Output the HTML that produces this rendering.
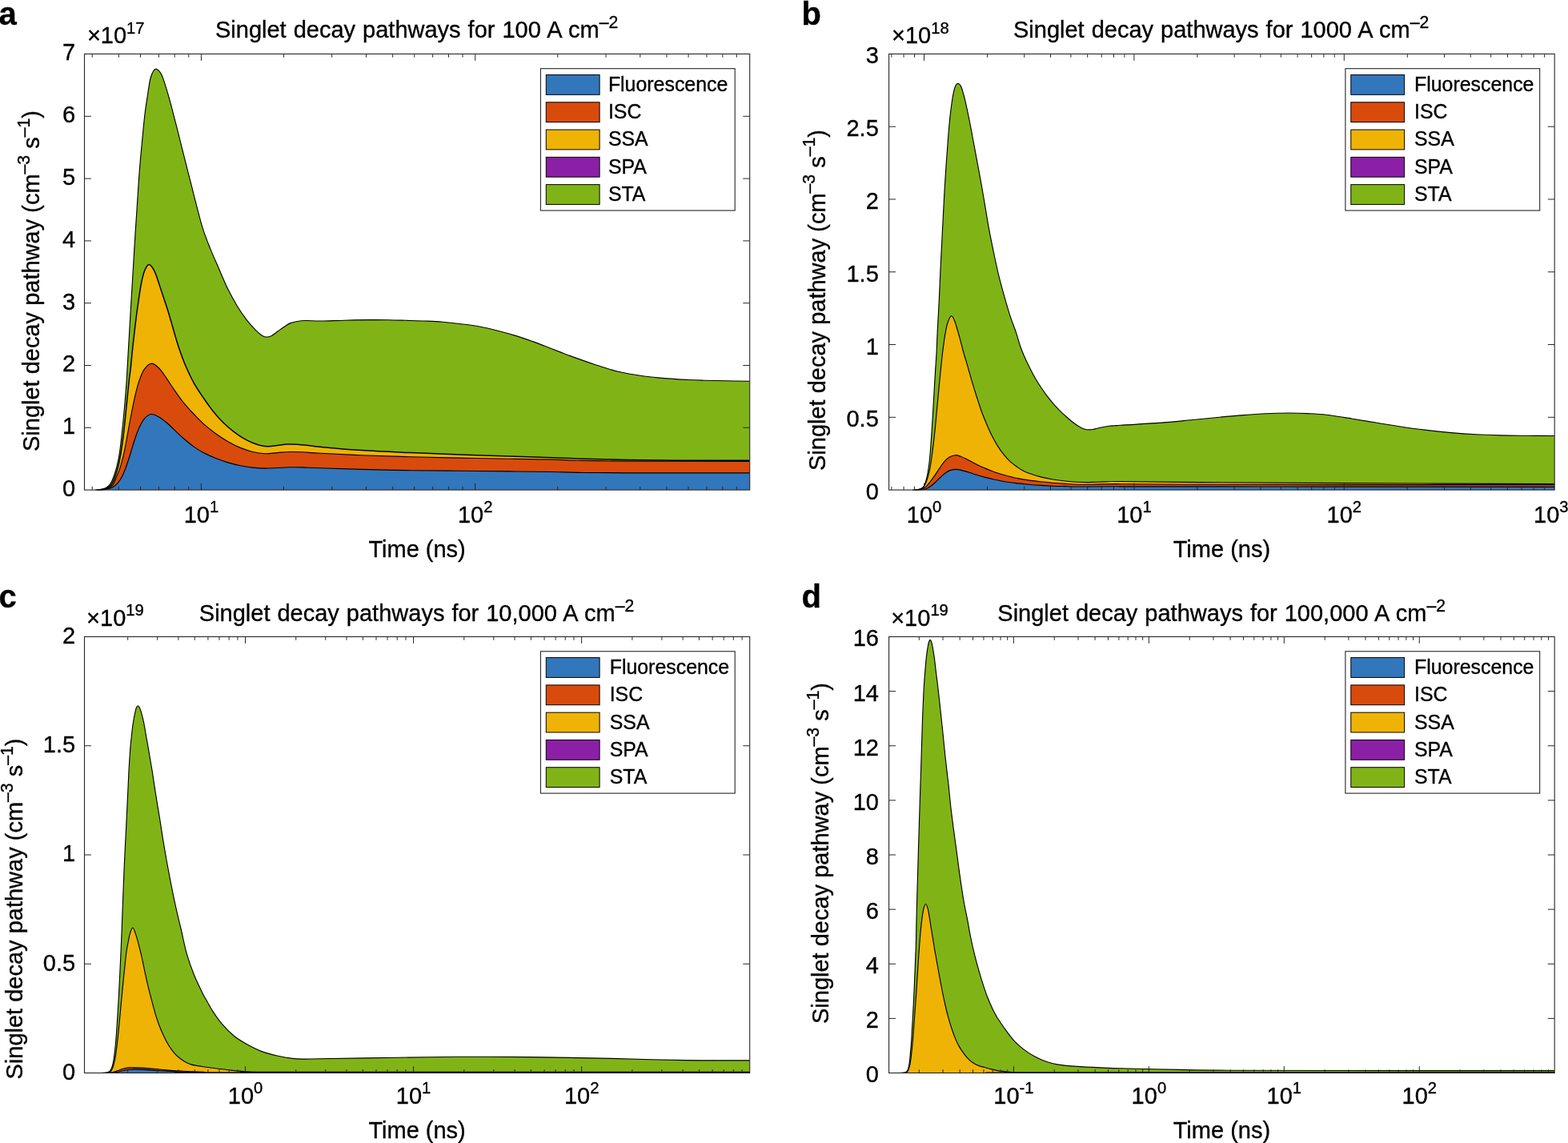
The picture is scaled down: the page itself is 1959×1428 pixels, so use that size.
<!DOCTYPE html>
<html lang="en"><head><meta charset="utf-8"><title>Singlet decay pathways</title>
<style>html,body{margin:0;padding:0;background:#fff}body{width:1959px;height:1428px;overflow:hidden}svg{display:block}text{font-family:"Liberation Sans",Arial,Helvetica,sans-serif;fill:#000;stroke:#000;stroke-width:0.35px;stroke-linejoin:round}</style></head><body>
<svg xmlns="http://www.w3.org/2000/svg" width="1959" height="1428" viewBox="0 0 1959 1428">
<rect width="1959" height="1428" fill="#fff"/>
<g>
<clipPath id="clipa"><rect x="105.5" y="67.4" width="831.2" height="545.3"/></clipPath>
<g clip-path="url(#clipa)">
<path d="M119 612.1C120.2 611.98 123.97 611.83 126.2 611.4C128.43 610.97 130.6 610.47 132.4 609.5C134.2 608.53 135.72 607.15 137 605.6C138.28 604.05 139.08 602.38 140.1 600.2C141.12 598.02 142.08 595.57 143.1 592.5C144.12 589.43 145.17 586.17 146.2 581.8C147.23 577.43 148.4 571.97 149.3 566.3C150.2 560.63 150.83 554.47 151.6 547.8C152.37 541.13 153.13 534 153.9 526.3C154.67 518.6 155.48 510.15 156.2 501.6C156.92 493.05 157.48 486.1 158.2 475C158.92 463.9 159.62 450.28 160.5 435C161.38 419.72 162.53 399.63 163.5 383.3C164.47 366.97 165.45 351.13 166.3 337C167.15 322.87 167.82 311 168.6 298.5C169.38 286 170.33 272.22 171 262C171.67 251.78 171.98 246.22 172.6 237.2C173.22 228.18 173.83 218.43 174.7 207.9C175.57 197.37 176.77 184.78 177.8 174C178.83 163.22 179.87 151.93 180.9 143.2C181.93 134.47 182.85 129.05 184 121.6C185.15 114.15 186.55 103.93 187.8 98.5C189.05 93.07 190.22 91.05 191.5 89C192.78 86.95 193.8 85.52 195.5 86.2C197.2 86.88 199.63 89 201.7 93.1C203.77 97.2 205.85 104.25 207.9 110.8C209.95 117.35 211.47 122.88 214 132.4C216.53 141.92 220.1 156.08 223.1 167.9C226.1 179.72 229.08 191.75 232 203.3C234.92 214.85 238.63 229.42 240.6 237.2C242.57 244.98 241.72 242.08 243.8 250C245.88 257.92 249.88 274.43 253.1 284.7C256.32 294.97 259.77 303.27 263.1 311.6C266.43 319.93 269.58 326.63 273.1 334.7C276.62 342.77 280.23 351.9 284.2 360C288.17 368.1 292.85 376.62 296.9 383.3C300.95 389.98 304.63 395.13 308.5 400.1C312.37 405.07 316.88 409.88 320.1 413.1C323.32 416.32 325.62 418.08 327.8 419.4C329.98 420.72 331.28 421 333.2 421C335.12 421 337 420.57 339.3 419.4C341.6 418.23 344.43 415.8 347 414C349.57 412.2 352.13 410.28 354.7 408.6C357.27 406.92 359.82 405.05 362.4 403.9C364.98 402.75 366.98 402.27 370.2 401.7C373.42 401.13 376.73 400.62 381.7 400.5C386.67 400.38 391.95 401.05 400 401C408.05 400.95 419.78 400.43 430 400.2C440.22 399.97 452.13 399.68 461.3 399.6C470.47 399.52 477.35 399.58 485 399.7C492.65 399.82 499.7 400.08 507.2 400.3C514.7 400.52 522.35 400.68 530 401C537.65 401.32 545.43 401.58 553.1 402.2C560.77 402.82 568.33 403.73 576 404.7C583.67 405.67 591.43 406.58 599.1 408C606.77 409.42 614.35 411.27 622 413.2C629.65 415.13 637.83 417.4 645 419.6C652.17 421.8 659.07 424.28 665 426.4C670.93 428.52 674.77 430.05 680.6 432.3C686.43 434.55 694.88 437.9 700 439.9C705.12 441.9 704.32 441.78 711.3 444.3C718.28 446.82 731.7 451.67 741.9 455C752.1 458.33 762.3 461.85 772.5 464.3C782.7 466.75 792.88 468.27 803.1 469.7C813.32 471.13 824.32 472.1 833.8 472.9C843.28 473.7 852.35 474.12 860 474.5C867.65 474.88 871.95 474.98 879.7 475.2C887.45 475.42 897 475.63 906.5 475.8C916 475.97 931.67 476.13 936.7 476.2L936.7 612.1L119 612.1Z" fill="#80b416" stroke="none"/>
<path d="M121 612.1C122.17 611.98 125.83 611.83 128 611.4C130.17 610.97 132.17 610.47 134 609.5C135.83 608.53 137.58 607.35 139 605.6C140.42 603.85 141.3 601.95 142.5 599C143.7 596.05 145.07 591.8 146.2 587.9C147.33 584 148.27 580.73 149.3 575.6C150.33 570.47 151.37 564.3 152.4 557.1C153.43 549.9 154.47 541.65 155.5 532.4C156.53 523.15 157.63 511.17 158.6 501.6C159.57 492.03 160.53 481.88 161.3 475C162.07 468.12 162.37 467.88 163.2 460.3C164.03 452.72 165.28 439 166.3 429.5C167.32 420 168.28 411.52 169.3 403.3C170.32 395.08 171.25 388.17 172.4 380.2C173.55 372.23 174.98 362.07 176.2 355.5C177.42 348.93 178.53 344.52 179.7 340.8C180.87 337.08 182.13 334.9 183.2 333.2C184.27 331.5 185.02 330.6 186.1 330.6C187.18 330.6 188.4 331.5 189.7 333.2C191 334.9 192.35 337.08 193.9 340.8C195.45 344.52 197.27 350.37 199 355.5C200.73 360.63 202.57 366.35 204.3 371.6C206.03 376.85 207.78 381.87 209.4 387C211.02 392.13 212.4 396.9 214 402.4C215.6 407.9 217.25 414.15 219 420C220.75 425.85 222.33 431.28 224.5 437.5C226.67 443.72 229.03 450.45 232 457.3C234.97 464.15 238.62 471.98 242.3 478.6C245.98 485.22 250.08 491.1 254.1 497C258.12 502.9 262.3 508.87 266.4 514C270.5 519.13 274.58 523.7 278.7 527.8C282.82 531.9 286.98 535.38 291.1 538.6C295.22 541.82 299.3 544.65 303.4 547.1C307.5 549.55 311.85 551.68 315.7 553.3C319.55 554.92 323.17 556.07 326.5 556.8C329.83 557.53 332.37 557.75 335.7 557.7C339.03 557.65 342.63 556.93 346.5 556.5C350.37 556.07 354.78 555.3 358.9 555.1C363.02 554.9 366.85 555.07 371.2 555.3C375.55 555.53 380.2 556 385 556.5C389.8 557 388.9 557.28 400 558.3C411.1 559.32 432.72 561.38 451.6 562.6C470.48 563.82 492.75 564.7 513.3 565.6C533.85 566.5 554.37 567.27 574.9 568C595.43 568.73 617.32 569.37 636.5 570C655.68 570.63 675.82 571.32 690 571.8C704.18 572.28 706.05 572.47 721.6 572.9C737.15 573.33 762.75 574.02 783.3 574.4C803.85 574.78 819.33 575.05 844.9 575.2C870.47 575.35 921.4 575.28 936.7 575.3L936.7 612.1L121 612.1Z" fill="#efb305" stroke="none"/>
<path d="M123 612.1C124.17 611.98 127.83 611.83 130 611.4C132.17 610.97 134.17 610.47 136 609.5C137.83 608.53 139.3 608.17 141 605.6C142.7 603.03 144.57 598.07 146.2 594.1C147.83 590.13 149.25 586.93 150.8 581.8C152.35 576.67 153.95 570.5 155.5 563.3C157.05 556.1 158.57 546.82 160.1 538.6C161.63 530.38 163.17 521.7 164.7 514C166.23 506.3 167.75 498.83 169.3 492.4C170.85 485.97 172.2 480.53 174 475.4C175.8 470.27 177.58 465.13 180.1 461.6C182.62 458.07 186.02 454.47 189.1 454.2C192.18 453.93 195.47 456.97 198.6 460C201.73 463.03 204.82 468.03 207.9 472.4C210.98 476.77 213.52 481.07 217.1 486.2C220.68 491.33 225.28 498.07 229.4 503.2C233.52 508.33 237.68 512.63 241.8 517C245.92 521.37 249.48 525.28 254.1 529.4C258.72 533.52 264.37 537.98 269.5 541.7C274.63 545.42 279.77 548.75 284.9 551.7C290.03 554.65 295.17 557.27 300.3 559.4C305.43 561.53 310.57 563.28 315.7 564.5C320.83 565.72 325.97 566.52 331.1 566.7C336.23 566.88 341.37 565.97 346.5 565.6C351.63 565.23 356.77 564.63 361.9 564.5C367.03 564.37 370.95 564.5 377.3 564.8C383.65 565.1 387.62 565.65 400 566.3C412.38 566.95 432.72 567.97 451.6 568.7C470.48 569.43 492.75 570.13 513.3 570.7C533.85 571.27 554.37 571.68 574.9 572.1C595.43 572.52 617.32 572.87 636.5 573.2C655.68 573.53 675.82 573.75 690 574.1C704.18 574.45 706.05 574.97 721.6 575.3C737.15 575.63 747.45 575.92 783.3 576.1C819.15 576.28 911.13 576.35 936.7 576.4L936.7 612.1L123 612.1Z" fill="#d94b0d" stroke="none"/>
<path d="M125 612.1C125.97 612.02 128.8 611.9 130.8 611.6C132.8 611.3 134.95 611.03 137 610.3C139.05 609.57 141.3 608.48 143.1 607.2C144.9 605.92 146.25 604.53 147.8 602.6C149.35 600.67 150.87 598.57 152.4 595.6C153.93 592.63 155.47 588.9 157 584.8C158.53 580.7 160.05 575.87 161.6 571C163.15 566.13 164.75 560.48 166.3 555.6C167.85 550.72 169.37 545.82 170.9 541.7C172.43 537.58 173.7 534.23 175.5 530.9C177.3 527.57 179.43 523.93 181.7 521.7C183.97 519.47 186.28 517.63 189.1 517.5C191.92 517.37 195.47 519.18 198.6 520.9C201.73 522.62 204.82 525.23 207.9 527.8C210.98 530.37 213.52 532.97 217.1 536.3C220.68 539.63 225.28 544.2 229.4 547.8C233.52 551.4 237.68 554.93 241.8 557.9C245.92 560.87 249.48 563.17 254.1 565.6C258.72 568.03 264.37 570.45 269.5 572.5C274.63 574.55 279.77 576.35 284.9 577.9C290.03 579.45 295.17 580.77 300.3 581.8C305.43 582.83 310.57 583.55 315.7 584.1C320.83 584.65 325.97 585.03 331.1 585.1C336.23 585.17 341.37 584.72 346.5 584.5C351.63 584.28 356.77 583.9 361.9 583.8C367.03 583.7 370.95 583.73 377.3 583.9C383.65 584.07 387.62 584.38 400 584.8C412.38 585.22 432.72 585.92 451.6 586.4C470.48 586.88 492.75 587.38 513.3 587.7C533.85 588.02 554.37 588.1 574.9 588.3C595.43 588.5 617.32 588.7 636.5 588.9C655.68 589.1 675.82 589.25 690 589.5C704.18 589.75 706.05 590.18 721.6 590.4C737.15 590.62 747.45 590.73 783.3 590.8C819.15 590.87 911.13 590.8 936.7 590.8L936.7 612.1L125 612.1Z" fill="#3277bc" stroke="none"/>
<path d="M119 612.1C120.2 611.98 123.97 611.83 126.2 611.4C128.43 610.97 130.6 610.47 132.4 609.5C134.2 608.53 135.72 607.15 137 605.6C138.28 604.05 139.08 602.38 140.1 600.2C141.12 598.02 142.08 595.57 143.1 592.5C144.12 589.43 145.17 586.17 146.2 581.8C147.23 577.43 148.4 571.97 149.3 566.3C150.2 560.63 150.83 554.47 151.6 547.8C152.37 541.13 153.13 534 153.9 526.3C154.67 518.6 155.48 510.15 156.2 501.6C156.92 493.05 157.48 486.1 158.2 475C158.92 463.9 159.62 450.28 160.5 435C161.38 419.72 162.53 399.63 163.5 383.3C164.47 366.97 165.45 351.13 166.3 337C167.15 322.87 167.82 311 168.6 298.5C169.38 286 170.33 272.22 171 262C171.67 251.78 171.98 246.22 172.6 237.2C173.22 228.18 173.83 218.43 174.7 207.9C175.57 197.37 176.77 184.78 177.8 174C178.83 163.22 179.87 151.93 180.9 143.2C181.93 134.47 182.85 129.05 184 121.6C185.15 114.15 186.55 103.93 187.8 98.5C189.05 93.07 190.22 91.05 191.5 89C192.78 86.95 193.8 85.52 195.5 86.2C197.2 86.88 199.63 89 201.7 93.1C203.77 97.2 205.85 104.25 207.9 110.8C209.95 117.35 211.47 122.88 214 132.4C216.53 141.92 220.1 156.08 223.1 167.9C226.1 179.72 229.08 191.75 232 203.3C234.92 214.85 238.63 229.42 240.6 237.2C242.57 244.98 241.72 242.08 243.8 250C245.88 257.92 249.88 274.43 253.1 284.7C256.32 294.97 259.77 303.27 263.1 311.6C266.43 319.93 269.58 326.63 273.1 334.7C276.62 342.77 280.23 351.9 284.2 360C288.17 368.1 292.85 376.62 296.9 383.3C300.95 389.98 304.63 395.13 308.5 400.1C312.37 405.07 316.88 409.88 320.1 413.1C323.32 416.32 325.62 418.08 327.8 419.4C329.98 420.72 331.28 421 333.2 421C335.12 421 337 420.57 339.3 419.4C341.6 418.23 344.43 415.8 347 414C349.57 412.2 352.13 410.28 354.7 408.6C357.27 406.92 359.82 405.05 362.4 403.9C364.98 402.75 366.98 402.27 370.2 401.7C373.42 401.13 376.73 400.62 381.7 400.5C386.67 400.38 391.95 401.05 400 401C408.05 400.95 419.78 400.43 430 400.2C440.22 399.97 452.13 399.68 461.3 399.6C470.47 399.52 477.35 399.58 485 399.7C492.65 399.82 499.7 400.08 507.2 400.3C514.7 400.52 522.35 400.68 530 401C537.65 401.32 545.43 401.58 553.1 402.2C560.77 402.82 568.33 403.73 576 404.7C583.67 405.67 591.43 406.58 599.1 408C606.77 409.42 614.35 411.27 622 413.2C629.65 415.13 637.83 417.4 645 419.6C652.17 421.8 659.07 424.28 665 426.4C670.93 428.52 674.77 430.05 680.6 432.3C686.43 434.55 694.88 437.9 700 439.9C705.12 441.9 704.32 441.78 711.3 444.3C718.28 446.82 731.7 451.67 741.9 455C752.1 458.33 762.3 461.85 772.5 464.3C782.7 466.75 792.88 468.27 803.1 469.7C813.32 471.13 824.32 472.1 833.8 472.9C843.28 473.7 852.35 474.12 860 474.5C867.65 474.88 871.95 474.98 879.7 475.2C887.45 475.42 897 475.63 906.5 475.8C916 475.97 931.67 476.13 936.7 476.2" fill="none" stroke="#000" stroke-width="1.15" stroke-linejoin="round"/>
<path d="M121 612.1C122.17 611.98 125.83 611.83 128 611.4C130.17 610.97 132.17 610.47 134 609.5C135.83 608.53 137.58 607.35 139 605.6C140.42 603.85 141.3 601.95 142.5 599C143.7 596.05 145.07 591.8 146.2 587.9C147.33 584 148.27 580.73 149.3 575.6C150.33 570.47 151.37 564.3 152.4 557.1C153.43 549.9 154.47 541.65 155.5 532.4C156.53 523.15 157.63 511.17 158.6 501.6C159.57 492.03 160.53 481.88 161.3 475C162.07 468.12 162.37 467.88 163.2 460.3C164.03 452.72 165.28 439 166.3 429.5C167.32 420 168.28 411.52 169.3 403.3C170.32 395.08 171.25 388.17 172.4 380.2C173.55 372.23 174.98 362.07 176.2 355.5C177.42 348.93 178.53 344.52 179.7 340.8C180.87 337.08 182.13 334.9 183.2 333.2C184.27 331.5 185.02 330.6 186.1 330.6C187.18 330.6 188.4 331.5 189.7 333.2C191 334.9 192.35 337.08 193.9 340.8C195.45 344.52 197.27 350.37 199 355.5C200.73 360.63 202.57 366.35 204.3 371.6C206.03 376.85 207.78 381.87 209.4 387C211.02 392.13 212.4 396.9 214 402.4C215.6 407.9 217.25 414.15 219 420C220.75 425.85 222.33 431.28 224.5 437.5C226.67 443.72 229.03 450.45 232 457.3C234.97 464.15 238.62 471.98 242.3 478.6C245.98 485.22 250.08 491.1 254.1 497C258.12 502.9 262.3 508.87 266.4 514C270.5 519.13 274.58 523.7 278.7 527.8C282.82 531.9 286.98 535.38 291.1 538.6C295.22 541.82 299.3 544.65 303.4 547.1C307.5 549.55 311.85 551.68 315.7 553.3C319.55 554.92 323.17 556.07 326.5 556.8C329.83 557.53 332.37 557.75 335.7 557.7C339.03 557.65 342.63 556.93 346.5 556.5C350.37 556.07 354.78 555.3 358.9 555.1C363.02 554.9 366.85 555.07 371.2 555.3C375.55 555.53 380.2 556 385 556.5C389.8 557 388.9 557.28 400 558.3C411.1 559.32 432.72 561.38 451.6 562.6C470.48 563.82 492.75 564.7 513.3 565.6C533.85 566.5 554.37 567.27 574.9 568C595.43 568.73 617.32 569.37 636.5 570C655.68 570.63 675.82 571.32 690 571.8C704.18 572.28 706.05 572.47 721.6 572.9C737.15 573.33 762.75 574.02 783.3 574.4C803.85 574.78 819.33 575.05 844.9 575.2C870.47 575.35 921.4 575.28 936.7 575.3" fill="none" stroke="#000" stroke-width="1.5" stroke-linejoin="round"/>
<path d="M123 612.1C124.17 611.98 127.83 611.83 130 611.4C132.17 610.97 134.17 610.47 136 609.5C137.83 608.53 139.3 608.17 141 605.6C142.7 603.03 144.57 598.07 146.2 594.1C147.83 590.13 149.25 586.93 150.8 581.8C152.35 576.67 153.95 570.5 155.5 563.3C157.05 556.1 158.57 546.82 160.1 538.6C161.63 530.38 163.17 521.7 164.7 514C166.23 506.3 167.75 498.83 169.3 492.4C170.85 485.97 172.2 480.53 174 475.4C175.8 470.27 177.58 465.13 180.1 461.6C182.62 458.07 186.02 454.47 189.1 454.2C192.18 453.93 195.47 456.97 198.6 460C201.73 463.03 204.82 468.03 207.9 472.4C210.98 476.77 213.52 481.07 217.1 486.2C220.68 491.33 225.28 498.07 229.4 503.2C233.52 508.33 237.68 512.63 241.8 517C245.92 521.37 249.48 525.28 254.1 529.4C258.72 533.52 264.37 537.98 269.5 541.7C274.63 545.42 279.77 548.75 284.9 551.7C290.03 554.65 295.17 557.27 300.3 559.4C305.43 561.53 310.57 563.28 315.7 564.5C320.83 565.72 325.97 566.52 331.1 566.7C336.23 566.88 341.37 565.97 346.5 565.6C351.63 565.23 356.77 564.63 361.9 564.5C367.03 564.37 370.95 564.5 377.3 564.8C383.65 565.1 387.62 565.65 400 566.3C412.38 566.95 432.72 567.97 451.6 568.7C470.48 569.43 492.75 570.13 513.3 570.7C533.85 571.27 554.37 571.68 574.9 572.1C595.43 572.52 617.32 572.87 636.5 573.2C655.68 573.53 675.82 573.75 690 574.1C704.18 574.45 706.05 574.97 721.6 575.3C737.15 575.63 747.45 575.92 783.3 576.1C819.15 576.28 911.13 576.35 936.7 576.4" fill="none" stroke="#000" stroke-width="1.15" stroke-linejoin="round"/>
<path d="M125 612.1C125.97 612.02 128.8 611.9 130.8 611.6C132.8 611.3 134.95 611.03 137 610.3C139.05 609.57 141.3 608.48 143.1 607.2C144.9 605.92 146.25 604.53 147.8 602.6C149.35 600.67 150.87 598.57 152.4 595.6C153.93 592.63 155.47 588.9 157 584.8C158.53 580.7 160.05 575.87 161.6 571C163.15 566.13 164.75 560.48 166.3 555.6C167.85 550.72 169.37 545.82 170.9 541.7C172.43 537.58 173.7 534.23 175.5 530.9C177.3 527.57 179.43 523.93 181.7 521.7C183.97 519.47 186.28 517.63 189.1 517.5C191.92 517.37 195.47 519.18 198.6 520.9C201.73 522.62 204.82 525.23 207.9 527.8C210.98 530.37 213.52 532.97 217.1 536.3C220.68 539.63 225.28 544.2 229.4 547.8C233.52 551.4 237.68 554.93 241.8 557.9C245.92 560.87 249.48 563.17 254.1 565.6C258.72 568.03 264.37 570.45 269.5 572.5C274.63 574.55 279.77 576.35 284.9 577.9C290.03 579.45 295.17 580.77 300.3 581.8C305.43 582.83 310.57 583.55 315.7 584.1C320.83 584.65 325.97 585.03 331.1 585.1C336.23 585.17 341.37 584.72 346.5 584.5C351.63 584.28 356.77 583.9 361.9 583.8C367.03 583.7 370.95 583.73 377.3 583.9C383.65 584.07 387.62 584.38 400 584.8C412.38 585.22 432.72 585.92 451.6 586.4C470.48 586.88 492.75 587.38 513.3 587.7C533.85 588.02 554.37 588.1 574.9 588.3C595.43 588.5 617.32 588.7 636.5 588.9C655.68 589.1 675.82 589.25 690 589.5C704.18 589.75 706.05 590.18 721.6 590.4C737.15 590.62 747.45 590.73 783.3 590.8C819.15 590.87 911.13 590.8 936.7 590.8" fill="none" stroke="#000" stroke-width="1.15" stroke-linejoin="round"/>
</g>
<path d="M115.19 612.1v-4.3M115.19 67.4v4.3M148.36 612.1v-4.3M148.36 67.4v4.3M175.46 612.1v-4.3M175.46 67.4v4.3M198.38 612.1v-4.3M198.38 67.4v4.3M218.23 612.1v-4.3M218.23 67.4v4.3M235.74 612.1v-4.3M235.74 67.4v4.3M251.4 612.1v-8.4M251.4 67.4v8.4M354.44 612.1v-4.3M354.44 67.4v4.3M414.72 612.1v-4.3M414.72 67.4v4.3M457.49 612.1v-4.3M457.49 67.4v4.3M490.66 612.1v-4.3M490.66 67.4v4.3M517.76 612.1v-4.3M517.76 67.4v4.3M540.68 612.1v-4.3M540.68 67.4v4.3M560.53 612.1v-4.3M560.53 67.4v4.3M578.04 612.1v-4.3M578.04 67.4v4.3M593.7 612.1v-8.4M593.7 67.4v8.4M696.74 612.1v-4.3M696.74 67.4v4.3M757.02 612.1v-4.3M757.02 67.4v4.3M799.79 612.1v-4.3M799.79 67.4v4.3M832.96 612.1v-4.3M832.96 67.4v4.3M860.06 612.1v-4.3M860.06 67.4v4.3M882.98 612.1v-4.3M882.98 67.4v4.3M902.83 612.1v-4.3M902.83 67.4v4.3M920.34 612.1v-4.3M920.34 67.4v4.3M105.5 534.3h8.4M936.7 534.3h-8.4M105.5 456.5h8.4M936.7 456.5h-8.4M105.5 378.7h8.4M936.7 378.7h-8.4M105.5 300.9h8.4M936.7 300.9h-8.4M105.5 223.1h8.4M936.7 223.1h-8.4M105.5 145.3h8.4M936.7 145.3h-8.4" stroke="#262626" stroke-width="1" fill="none"/>
<rect x="105.5" y="67.4" width="831.2" height="544.7" fill="none" stroke="#262626" stroke-width="1.1"/>
<text x="94.2" y="620" font-size="29" text-anchor="end">0</text>
<text x="94.2" y="542.2" font-size="29" text-anchor="end">1</text>
<text x="94.2" y="464.4" font-size="29" text-anchor="end">2</text>
<text x="94.2" y="386.6" font-size="29" text-anchor="end">3</text>
<text x="94.2" y="308.8" font-size="29" text-anchor="end">4</text>
<text x="94.2" y="231" font-size="29" text-anchor="end">5</text>
<text x="94.2" y="153.2" font-size="29" text-anchor="end">6</text>
<text x="94.2" y="75.4" font-size="29" text-anchor="end">7</text>
<text x="229.66" y="653.1" font-size="29" text-anchor="start">10<tspan font-size="20.2" dy="-12.9">1</tspan></text>
<text x="571.96" y="653.1" font-size="29" text-anchor="start">10<tspan font-size="20.2" dy="-12.9">2</tspan></text>
<text x="521.1" y="695.5" font-size="29" text-anchor="middle">Time (ns)</text>
<text transform="translate(49.4 564) rotate(-90)" font-size="29">Singlet decay pathway (cm<tspan font-size="21.2" dy="-12.2">–3</tspan><tspan dy="12.2"> s</tspan><tspan font-size="21.2" dy="-12.2">–1</tspan><tspan dy="12.2">)</tspan></text>
<text x="269" y="47.1" font-size="29" text-anchor="start" word-spacing="0.95">Singlet decay pathways for 100 A cm<tspan font-size="21.2" dy="-11.8">–2</tspan></text>
<text x="108.9" y="54.2" font-size="29" text-anchor="start">×10<tspan font-size="20.2" dy="-12.6">17</tspan></text>
<text x="-1.5" y="31" font-size="40" font-weight="bold">a</text>
<rect x="675.4" y="85.7" width="242.8" height="177.3" fill="#fff" stroke="#262626" stroke-width="1.1"/>
<rect x="682.3" y="93.5" width="66.8" height="24.8" fill="#3277bc" stroke="#000" stroke-width="1"/>
<text x="759.9" y="113.9" font-size="24.9">Fluorescence</text>
<rect x="682.3" y="127.78" width="66.8" height="24.8" fill="#d94b0d" stroke="#000" stroke-width="1"/>
<text x="759.9" y="148.18" font-size="24.9">ISC</text>
<rect x="682.3" y="162.06" width="66.8" height="24.8" fill="#efb305" stroke="#000" stroke-width="1"/>
<text x="759.9" y="182.46" font-size="24.9">SSA</text>
<rect x="682.3" y="196.34" width="66.8" height="24.8" fill="#8b1fa6" stroke="#000" stroke-width="1"/>
<text x="759.9" y="216.74" font-size="24.9">SPA</text>
<rect x="682.3" y="230.62" width="66.8" height="24.8" fill="#80b416" stroke="#000" stroke-width="1"/>
<text x="759.9" y="251.02" font-size="24.9">STA</text>
</g>
<g>
<clipPath id="clipb"><rect x="1110.6" y="67.4" width="831.6" height="545.3"/></clipPath>
<g clip-path="url(#clipb)">
<path d="M1140 612.1C1140.78 612.05 1143.15 611.98 1144.7 611.8C1146.25 611.62 1147.88 611.52 1149.3 611C1150.72 610.48 1152.17 609.72 1153.2 608.7C1154.23 607.68 1154.73 606.82 1155.5 604.9C1156.27 602.98 1157.17 599.77 1157.8 597.2C1158.43 594.63 1158.78 592.58 1159.3 589.5C1159.82 586.42 1160.38 583.07 1160.9 578.7C1161.42 574.33 1161.9 569.47 1162.4 563.3C1162.9 557.13 1163.38 549.42 1163.9 541.7C1164.42 533.98 1164.98 525.48 1165.5 517C1166.02 508.52 1166.48 499.78 1167 490.8C1167.52 481.82 1168.08 471.57 1168.6 463.1C1169.12 454.63 1169.67 448.17 1170.1 440C1170.53 431.83 1170.68 424.58 1171.2 414.1C1171.72 403.62 1172.57 389.95 1173.2 377.1C1173.83 364.25 1174.37 350.35 1175 337C1175.63 323.65 1176.35 309.83 1177 297C1177.65 284.17 1178.38 269.97 1178.9 260C1179.42 250.03 1179.57 246.13 1180.1 237.2C1180.63 228.27 1181.45 215.9 1182.1 206.4C1182.75 196.9 1183.35 188.68 1184 180.2C1184.65 171.72 1185.23 163.47 1186 155.5C1186.77 147.53 1187.65 139.33 1188.6 132.4C1189.55 125.47 1190.77 118.22 1191.7 113.9C1192.63 109.58 1193.35 108.08 1194.2 106.5C1195.05 104.92 1195.95 104.48 1196.8 104.4C1197.65 104.32 1198.48 104.93 1199.3 106C1200.12 107.07 1200.53 107.17 1201.7 110.8C1202.87 114.43 1204.77 121.37 1206.3 127.8C1207.83 134.23 1209.35 141.7 1210.9 149.4C1212.45 157.1 1214.05 165.78 1215.6 174C1217.15 182.22 1218.67 190.48 1220.2 198.7C1221.73 206.92 1223.27 214.83 1224.8 223.3C1226.33 231.77 1227.6 239.02 1229.4 249.5C1231.2 259.98 1233.53 274.95 1235.6 286.2C1237.67 297.45 1239.75 307.25 1241.8 317C1243.85 326.75 1245.85 336.22 1247.9 344.7C1249.95 353.18 1251.78 359.67 1254.1 367.9C1256.42 376.13 1259.23 386.15 1261.8 394.1C1264.37 402.05 1267.38 409.28 1269.5 415.6C1271.62 421.92 1272.82 427.1 1274.5 432C1276.18 436.9 1277.68 440.58 1279.6 445C1281.52 449.42 1283.75 454 1286 458.5C1288.25 463 1290.67 467.75 1293.1 472C1295.53 476.25 1298.03 480.15 1300.6 484C1303.17 487.85 1305.93 491.72 1308.5 495.1C1311.07 498.48 1313.43 501.35 1316 504.3C1318.57 507.25 1321.32 510.18 1323.9 512.8C1326.48 515.42 1328.93 517.68 1331.5 520C1334.07 522.32 1336.97 524.83 1339.3 526.7C1341.63 528.57 1343.57 529.92 1345.5 531.2C1347.43 532.48 1349.23 533.57 1350.9 534.4C1352.57 535.23 1353.97 535.8 1355.5 536.2C1357.03 536.6 1358.52 536.75 1360.1 536.8C1361.68 536.85 1363.32 536.75 1365 536.5C1366.68 536.25 1368.15 535.75 1370.2 535.3C1372.25 534.85 1374.73 534.3 1377.3 533.8C1379.87 533.3 1383.02 532.65 1385.6 532.3C1388.18 531.95 1390.4 531.88 1392.8 531.7C1395.2 531.52 1395.47 531.47 1400 531.2C1404.53 530.93 1410.5 530.7 1420 530.1C1429.5 529.5 1445.68 528.5 1457 527.6C1468.32 526.7 1477.62 525.68 1487.9 524.7C1498.18 523.72 1508.43 522.67 1518.7 521.7C1528.97 520.73 1539.23 519.73 1549.5 518.9C1559.77 518.07 1570.03 517.18 1580.3 516.7C1590.57 516.22 1602.12 516.02 1611.1 516C1620.08 515.98 1626.5 516.22 1634.2 516.6C1641.9 516.98 1648.03 517.2 1657.3 518.3C1666.57 519.4 1679.25 521.53 1689.8 523.2C1700.35 524.87 1710.33 526.63 1720.6 528.3C1730.87 529.97 1741.12 531.68 1751.4 533.2C1761.68 534.72 1772.02 536.17 1782.3 537.4C1792.58 538.63 1802.83 539.7 1813.1 540.6C1823.37 541.5 1833.63 542.25 1843.9 542.8C1854.17 543.35 1864.43 543.65 1874.7 543.9C1884.97 544.15 1894.25 544.2 1905.5 544.3C1916.75 544.4 1936.08 544.47 1942.2 544.5L1942.2 612.1L1140 612.1Z" fill="#80b416" stroke="none"/>
<path d="M1142 612.1C1142.83 612.02 1145.5 611.87 1147 611.6C1148.5 611.33 1149.85 610.98 1151 610.5C1152.15 610.02 1152.9 610.02 1153.9 608.7C1154.9 607.38 1156.1 604.78 1157 602.6C1157.9 600.42 1158.53 598.3 1159.3 595.6C1160.07 592.9 1160.83 590.25 1161.6 586.4C1162.37 582.55 1163.12 577.9 1163.9 572.5C1164.68 567.1 1165.52 560.68 1166.3 554C1167.08 547.32 1167.83 540.1 1168.6 532.4C1169.37 524.7 1170.13 516.02 1170.9 507.8C1171.67 499.58 1172.43 491.07 1173.2 483.1C1173.97 475.13 1174.82 466.68 1175.5 460C1176.18 453.32 1176.78 447.57 1177.3 443C1177.82 438.43 1178 436.9 1178.6 432.6C1179.2 428.3 1180 422.08 1180.9 417.2C1181.8 412.32 1182.72 407.03 1184 403.3C1185.28 399.57 1187.2 395.32 1188.6 394.8C1190 394.28 1191.12 397.25 1192.4 400.2C1193.68 403.15 1195 408.13 1196.3 412.5C1197.6 416.87 1198.85 421.4 1200.2 426.4C1201.55 431.4 1203.12 437.92 1204.4 442.5C1205.68 447.08 1206.3 448.42 1207.9 453.9C1209.5 459.38 1211.95 468.47 1214 475.4C1216.05 482.33 1218.15 489.07 1220.2 495.5C1222.25 501.93 1224.25 508.35 1226.3 514C1228.35 519.65 1230.43 524.53 1232.5 529.4C1234.57 534.27 1236.38 538.58 1238.7 543.2C1241.02 547.82 1243.83 552.98 1246.4 557.1C1248.97 561.22 1251.53 564.68 1254.1 567.9C1256.67 571.12 1259.23 573.97 1261.8 576.4C1264.37 578.83 1266.93 580.65 1269.5 582.5C1272.07 584.35 1274.63 586.08 1277.2 587.5C1279.77 588.92 1281.05 589.6 1284.9 591C1288.75 592.4 1295.17 594.57 1300.3 595.9C1305.43 597.23 1310.57 598.15 1315.7 599C1320.83 599.85 1325.97 600.47 1331.1 601C1336.23 601.53 1341.87 601.93 1346.5 602.2C1351.13 602.47 1355.05 602.6 1358.9 602.6C1362.75 602.6 1365.25 602.33 1369.6 602.2C1373.95 602.07 1379.93 601.92 1385 601.8C1390.07 601.68 1380.83 601.37 1400 601.5C1419.17 601.63 1453.33 602.25 1500 602.6C1546.67 602.95 1606.3 603.27 1680 603.6C1753.7 603.93 1898.5 604.43 1942.2 604.6L1942.2 612.1L1142 612.1Z" fill="#efb305" stroke="none"/>
<path d="M1144 612.1C1144.83 612.02 1147.47 611.83 1149 611.6C1150.53 611.37 1151.87 611.32 1153.2 610.7C1154.53 610.08 1155.6 609.25 1157 607.9C1158.4 606.55 1159.8 604.9 1161.6 602.6C1163.4 600.3 1165.73 597.07 1167.8 594.1C1169.87 591.13 1171.95 587.75 1174 584.8C1176.05 581.85 1178.05 578.7 1180.1 576.4C1182.15 574.1 1184.12 572.28 1186.3 571C1188.48 569.72 1190.88 568.83 1193.2 568.7C1195.52 568.57 1197.75 569.37 1200.2 570.2C1202.65 571.03 1205.33 572.42 1207.9 573.7C1210.47 574.98 1213.03 576.55 1215.6 577.9C1218.17 579.25 1220.73 580.6 1223.3 581.8C1225.87 583 1228.43 584.03 1231 585.1C1233.57 586.17 1236.13 587.22 1238.7 588.2C1241.27 589.18 1243.83 590.15 1246.4 591C1248.97 591.85 1250.25 592.27 1254.1 593.3C1257.95 594.33 1264.37 596.1 1269.5 597.2C1274.63 598.3 1279.77 599.13 1284.9 599.9C1290.03 600.67 1295.17 601.23 1300.3 601.8C1305.43 602.37 1310.57 602.87 1315.7 603.3C1320.83 603.73 1325.97 604.08 1331.1 604.4C1336.23 604.72 1341.37 605.07 1346.5 605.2C1351.63 605.33 1356.77 605.25 1361.9 605.2C1367.03 605.15 1370.95 604.98 1377.3 604.9C1383.65 604.82 1379.55 604.65 1400 604.7C1420.45 604.75 1453.33 605.05 1500 605.2C1546.67 605.35 1606.3 605.53 1680 605.6C1753.7 605.67 1898.5 605.6 1942.2 605.6L1942.2 612.1L1144 612.1Z" fill="#d94b0d" stroke="none"/>
<path d="M1146 612.1C1146.83 612.05 1149.42 611.93 1151 611.8C1152.58 611.67 1153.73 611.88 1155.5 611.3C1157.27 610.72 1159.55 609.63 1161.6 608.3C1163.65 606.97 1165.73 605.15 1167.8 603.3C1169.87 601.45 1171.95 599.12 1174 597.2C1176.05 595.28 1178.05 593.35 1180.1 591.8C1182.15 590.25 1183.98 588.8 1186.3 587.9C1188.62 587 1191.43 586.45 1194 586.4C1196.57 586.35 1198.88 586.97 1201.7 587.6C1204.52 588.23 1207.82 589.25 1210.9 590.2C1213.98 591.15 1216.85 592.27 1220.2 593.3C1223.55 594.33 1227.4 595.45 1231 596.4C1234.6 597.35 1237.95 598.15 1241.8 599C1245.65 599.85 1249.48 600.73 1254.1 601.5C1258.72 602.27 1264.37 602.98 1269.5 603.6C1274.63 604.22 1279.77 604.73 1284.9 605.2C1290.03 605.67 1295.17 606.07 1300.3 606.4C1305.43 606.73 1310.57 607 1315.7 607.2C1320.83 607.4 1325.97 607.47 1331.1 607.6C1336.23 607.73 1335.02 607.97 1346.5 608C1357.98 608.03 1344.42 607.78 1400 607.8C1455.58 607.82 1589.63 608.02 1680 608.1C1770.37 608.18 1898.5 608.27 1942.2 608.3L1942.2 612.1L1146 612.1Z" fill="#3277bc" stroke="none"/>
<path d="M1140 612.1C1140.78 612.05 1143.15 611.98 1144.7 611.8C1146.25 611.62 1147.88 611.52 1149.3 611C1150.72 610.48 1152.17 609.72 1153.2 608.7C1154.23 607.68 1154.73 606.82 1155.5 604.9C1156.27 602.98 1157.17 599.77 1157.8 597.2C1158.43 594.63 1158.78 592.58 1159.3 589.5C1159.82 586.42 1160.38 583.07 1160.9 578.7C1161.42 574.33 1161.9 569.47 1162.4 563.3C1162.9 557.13 1163.38 549.42 1163.9 541.7C1164.42 533.98 1164.98 525.48 1165.5 517C1166.02 508.52 1166.48 499.78 1167 490.8C1167.52 481.82 1168.08 471.57 1168.6 463.1C1169.12 454.63 1169.67 448.17 1170.1 440C1170.53 431.83 1170.68 424.58 1171.2 414.1C1171.72 403.62 1172.57 389.95 1173.2 377.1C1173.83 364.25 1174.37 350.35 1175 337C1175.63 323.65 1176.35 309.83 1177 297C1177.65 284.17 1178.38 269.97 1178.9 260C1179.42 250.03 1179.57 246.13 1180.1 237.2C1180.63 228.27 1181.45 215.9 1182.1 206.4C1182.75 196.9 1183.35 188.68 1184 180.2C1184.65 171.72 1185.23 163.47 1186 155.5C1186.77 147.53 1187.65 139.33 1188.6 132.4C1189.55 125.47 1190.77 118.22 1191.7 113.9C1192.63 109.58 1193.35 108.08 1194.2 106.5C1195.05 104.92 1195.95 104.48 1196.8 104.4C1197.65 104.32 1198.48 104.93 1199.3 106C1200.12 107.07 1200.53 107.17 1201.7 110.8C1202.87 114.43 1204.77 121.37 1206.3 127.8C1207.83 134.23 1209.35 141.7 1210.9 149.4C1212.45 157.1 1214.05 165.78 1215.6 174C1217.15 182.22 1218.67 190.48 1220.2 198.7C1221.73 206.92 1223.27 214.83 1224.8 223.3C1226.33 231.77 1227.6 239.02 1229.4 249.5C1231.2 259.98 1233.53 274.95 1235.6 286.2C1237.67 297.45 1239.75 307.25 1241.8 317C1243.85 326.75 1245.85 336.22 1247.9 344.7C1249.95 353.18 1251.78 359.67 1254.1 367.9C1256.42 376.13 1259.23 386.15 1261.8 394.1C1264.37 402.05 1267.38 409.28 1269.5 415.6C1271.62 421.92 1272.82 427.1 1274.5 432C1276.18 436.9 1277.68 440.58 1279.6 445C1281.52 449.42 1283.75 454 1286 458.5C1288.25 463 1290.67 467.75 1293.1 472C1295.53 476.25 1298.03 480.15 1300.6 484C1303.17 487.85 1305.93 491.72 1308.5 495.1C1311.07 498.48 1313.43 501.35 1316 504.3C1318.57 507.25 1321.32 510.18 1323.9 512.8C1326.48 515.42 1328.93 517.68 1331.5 520C1334.07 522.32 1336.97 524.83 1339.3 526.7C1341.63 528.57 1343.57 529.92 1345.5 531.2C1347.43 532.48 1349.23 533.57 1350.9 534.4C1352.57 535.23 1353.97 535.8 1355.5 536.2C1357.03 536.6 1358.52 536.75 1360.1 536.8C1361.68 536.85 1363.32 536.75 1365 536.5C1366.68 536.25 1368.15 535.75 1370.2 535.3C1372.25 534.85 1374.73 534.3 1377.3 533.8C1379.87 533.3 1383.02 532.65 1385.6 532.3C1388.18 531.95 1390.4 531.88 1392.8 531.7C1395.2 531.52 1395.47 531.47 1400 531.2C1404.53 530.93 1410.5 530.7 1420 530.1C1429.5 529.5 1445.68 528.5 1457 527.6C1468.32 526.7 1477.62 525.68 1487.9 524.7C1498.18 523.72 1508.43 522.67 1518.7 521.7C1528.97 520.73 1539.23 519.73 1549.5 518.9C1559.77 518.07 1570.03 517.18 1580.3 516.7C1590.57 516.22 1602.12 516.02 1611.1 516C1620.08 515.98 1626.5 516.22 1634.2 516.6C1641.9 516.98 1648.03 517.2 1657.3 518.3C1666.57 519.4 1679.25 521.53 1689.8 523.2C1700.35 524.87 1710.33 526.63 1720.6 528.3C1730.87 529.97 1741.12 531.68 1751.4 533.2C1761.68 534.72 1772.02 536.17 1782.3 537.4C1792.58 538.63 1802.83 539.7 1813.1 540.6C1823.37 541.5 1833.63 542.25 1843.9 542.8C1854.17 543.35 1864.43 543.65 1874.7 543.9C1884.97 544.15 1894.25 544.2 1905.5 544.3C1916.75 544.4 1936.08 544.47 1942.2 544.5" fill="none" stroke="#000" stroke-width="1.15" stroke-linejoin="round"/>
<path d="M1142 612.1C1142.83 612.02 1145.5 611.87 1147 611.6C1148.5 611.33 1149.85 610.98 1151 610.5C1152.15 610.02 1152.9 610.02 1153.9 608.7C1154.9 607.38 1156.1 604.78 1157 602.6C1157.9 600.42 1158.53 598.3 1159.3 595.6C1160.07 592.9 1160.83 590.25 1161.6 586.4C1162.37 582.55 1163.12 577.9 1163.9 572.5C1164.68 567.1 1165.52 560.68 1166.3 554C1167.08 547.32 1167.83 540.1 1168.6 532.4C1169.37 524.7 1170.13 516.02 1170.9 507.8C1171.67 499.58 1172.43 491.07 1173.2 483.1C1173.97 475.13 1174.82 466.68 1175.5 460C1176.18 453.32 1176.78 447.57 1177.3 443C1177.82 438.43 1178 436.9 1178.6 432.6C1179.2 428.3 1180 422.08 1180.9 417.2C1181.8 412.32 1182.72 407.03 1184 403.3C1185.28 399.57 1187.2 395.32 1188.6 394.8C1190 394.28 1191.12 397.25 1192.4 400.2C1193.68 403.15 1195 408.13 1196.3 412.5C1197.6 416.87 1198.85 421.4 1200.2 426.4C1201.55 431.4 1203.12 437.92 1204.4 442.5C1205.68 447.08 1206.3 448.42 1207.9 453.9C1209.5 459.38 1211.95 468.47 1214 475.4C1216.05 482.33 1218.15 489.07 1220.2 495.5C1222.25 501.93 1224.25 508.35 1226.3 514C1228.35 519.65 1230.43 524.53 1232.5 529.4C1234.57 534.27 1236.38 538.58 1238.7 543.2C1241.02 547.82 1243.83 552.98 1246.4 557.1C1248.97 561.22 1251.53 564.68 1254.1 567.9C1256.67 571.12 1259.23 573.97 1261.8 576.4C1264.37 578.83 1266.93 580.65 1269.5 582.5C1272.07 584.35 1274.63 586.08 1277.2 587.5C1279.77 588.92 1281.05 589.6 1284.9 591C1288.75 592.4 1295.17 594.57 1300.3 595.9C1305.43 597.23 1310.57 598.15 1315.7 599C1320.83 599.85 1325.97 600.47 1331.1 601C1336.23 601.53 1341.87 601.93 1346.5 602.2C1351.13 602.47 1355.05 602.6 1358.9 602.6C1362.75 602.6 1365.25 602.33 1369.6 602.2C1373.95 602.07 1379.93 601.92 1385 601.8C1390.07 601.68 1380.83 601.37 1400 601.5C1419.17 601.63 1453.33 602.25 1500 602.6C1546.67 602.95 1606.3 603.27 1680 603.6C1753.7 603.93 1898.5 604.43 1942.2 604.6" fill="none" stroke="#000" stroke-width="1.15" stroke-linejoin="round"/>
<path d="M1144 612.1C1144.83 612.02 1147.47 611.83 1149 611.6C1150.53 611.37 1151.87 611.32 1153.2 610.7C1154.53 610.08 1155.6 609.25 1157 607.9C1158.4 606.55 1159.8 604.9 1161.6 602.6C1163.4 600.3 1165.73 597.07 1167.8 594.1C1169.87 591.13 1171.95 587.75 1174 584.8C1176.05 581.85 1178.05 578.7 1180.1 576.4C1182.15 574.1 1184.12 572.28 1186.3 571C1188.48 569.72 1190.88 568.83 1193.2 568.7C1195.52 568.57 1197.75 569.37 1200.2 570.2C1202.65 571.03 1205.33 572.42 1207.9 573.7C1210.47 574.98 1213.03 576.55 1215.6 577.9C1218.17 579.25 1220.73 580.6 1223.3 581.8C1225.87 583 1228.43 584.03 1231 585.1C1233.57 586.17 1236.13 587.22 1238.7 588.2C1241.27 589.18 1243.83 590.15 1246.4 591C1248.97 591.85 1250.25 592.27 1254.1 593.3C1257.95 594.33 1264.37 596.1 1269.5 597.2C1274.63 598.3 1279.77 599.13 1284.9 599.9C1290.03 600.67 1295.17 601.23 1300.3 601.8C1305.43 602.37 1310.57 602.87 1315.7 603.3C1320.83 603.73 1325.97 604.08 1331.1 604.4C1336.23 604.72 1341.37 605.07 1346.5 605.2C1351.63 605.33 1356.77 605.25 1361.9 605.2C1367.03 605.15 1370.95 604.98 1377.3 604.9C1383.65 604.82 1379.55 604.65 1400 604.7C1420.45 604.75 1453.33 605.05 1500 605.2C1546.67 605.35 1606.3 605.53 1680 605.6C1753.7 605.67 1898.5 605.6 1942.2 605.6" fill="none" stroke="#000" stroke-width="1.15" stroke-linejoin="round"/>
<path d="M1146 612.1C1146.83 612.05 1149.42 611.93 1151 611.8C1152.58 611.67 1153.73 611.88 1155.5 611.3C1157.27 610.72 1159.55 609.63 1161.6 608.3C1163.65 606.97 1165.73 605.15 1167.8 603.3C1169.87 601.45 1171.95 599.12 1174 597.2C1176.05 595.28 1178.05 593.35 1180.1 591.8C1182.15 590.25 1183.98 588.8 1186.3 587.9C1188.62 587 1191.43 586.45 1194 586.4C1196.57 586.35 1198.88 586.97 1201.7 587.6C1204.52 588.23 1207.82 589.25 1210.9 590.2C1213.98 591.15 1216.85 592.27 1220.2 593.3C1223.55 594.33 1227.4 595.45 1231 596.4C1234.6 597.35 1237.95 598.15 1241.8 599C1245.65 599.85 1249.48 600.73 1254.1 601.5C1258.72 602.27 1264.37 602.98 1269.5 603.6C1274.63 604.22 1279.77 604.73 1284.9 605.2C1290.03 605.67 1295.17 606.07 1300.3 606.4C1305.43 606.73 1310.57 607 1315.7 607.2C1320.83 607.4 1325.97 607.47 1331.1 607.6C1336.23 607.73 1335.02 607.97 1346.5 608C1357.98 608.03 1344.42 607.78 1400 607.8C1455.58 607.82 1589.63 608.02 1680 608.1C1770.37 608.18 1898.5 608.27 1942.2 608.3" fill="none" stroke="#000" stroke-width="1.15" stroke-linejoin="round"/>
</g>
<path d="M1113.85 612.1v-4.3M1113.85 67.4v4.3M1129.07 612.1v-4.3M1129.07 67.4v4.3M1142.49 612.1v-4.3M1142.49 67.4v4.3M1154.5 612.1v-8.4M1154.5 67.4v8.4M1233.49 612.1v-4.3M1233.49 67.4v4.3M1279.7 612.1v-4.3M1279.7 67.4v4.3M1312.48 612.1v-4.3M1312.48 67.4v4.3M1337.91 612.1v-4.3M1337.91 67.4v4.3M1358.69 612.1v-4.3M1358.69 67.4v4.3M1376.25 612.1v-4.3M1376.25 67.4v4.3M1391.47 612.1v-4.3M1391.47 67.4v4.3M1404.89 612.1v-4.3M1404.89 67.4v4.3M1416.9 612.1v-8.4M1416.9 67.4v8.4M1495.89 612.1v-4.3M1495.89 67.4v4.3M1542.1 612.1v-4.3M1542.1 67.4v4.3M1574.88 612.1v-4.3M1574.88 67.4v4.3M1600.31 612.1v-4.3M1600.31 67.4v4.3M1621.09 612.1v-4.3M1621.09 67.4v4.3M1638.65 612.1v-4.3M1638.65 67.4v4.3M1653.87 612.1v-4.3M1653.87 67.4v4.3M1667.29 612.1v-4.3M1667.29 67.4v4.3M1679.3 612.1v-8.4M1679.3 67.4v8.4M1758.29 612.1v-4.3M1758.29 67.4v4.3M1804.5 612.1v-4.3M1804.5 67.4v4.3M1837.28 612.1v-4.3M1837.28 67.4v4.3M1862.71 612.1v-4.3M1862.71 67.4v4.3M1883.49 612.1v-4.3M1883.49 67.4v4.3M1901.05 612.1v-4.3M1901.05 67.4v4.3M1916.27 612.1v-4.3M1916.27 67.4v4.3M1929.69 612.1v-4.3M1929.69 67.4v4.3M1110.6 521.32h8.4M1942.2 521.32h-8.4M1110.6 430.53h8.4M1942.2 430.53h-8.4M1110.6 339.75h8.4M1942.2 339.75h-8.4M1110.6 248.96h8.4M1942.2 248.96h-8.4M1110.6 158.18h8.4M1942.2 158.18h-8.4" stroke="#262626" stroke-width="1" fill="none"/>
<rect x="1110.6" y="67.4" width="831.6" height="544.7" fill="none" stroke="#262626" stroke-width="1.1"/>
<text x="1097.8" y="624.1" font-size="29" text-anchor="end">0</text>
<text x="1097.8" y="533.32" font-size="29" text-anchor="end">0.5</text>
<text x="1097.8" y="442.53" font-size="29" text-anchor="end">1</text>
<text x="1097.8" y="351.75" font-size="29" text-anchor="end">1.5</text>
<text x="1097.8" y="260.96" font-size="29" text-anchor="end">2</text>
<text x="1097.8" y="170.18" font-size="29" text-anchor="end">2.5</text>
<text x="1097.8" y="79.39" font-size="29" text-anchor="end">3</text>
<text x="1132.76" y="653.1" font-size="29" text-anchor="start">10<tspan font-size="20.2" dy="-12.9">0</tspan></text>
<text x="1395.16" y="653.1" font-size="29" text-anchor="start">10<tspan font-size="20.2" dy="-12.9">1</tspan></text>
<text x="1657.56" y="653.1" font-size="29" text-anchor="start">10<tspan font-size="20.2" dy="-12.9">2</tspan></text>
<text x="1916.06" y="653.1" font-size="29" text-anchor="start">10<tspan font-size="20.2" dy="-12.9">3</tspan></text>
<text x="1526.4" y="695.5" font-size="29" text-anchor="middle">Time (ns)</text>
<text transform="translate(1030.6 588) rotate(-90)" font-size="29">Singlet decay pathway (cm<tspan font-size="21.2" dy="-12.2">–3</tspan><tspan dy="12.2"> s</tspan><tspan font-size="21.2" dy="-12.2">–1</tspan><tspan dy="12.2">)</tspan></text>
<text x="1266" y="47.1" font-size="29" text-anchor="start" word-spacing="0.95">Singlet decay pathways for 1000 A cm<tspan font-size="21.2" dy="-11.8">–2</tspan></text>
<text x="1114" y="54.2" font-size="29" text-anchor="start">×10<tspan font-size="20.2" dy="-12.6">18</tspan></text>
<text x="1001.5" y="31" font-size="40" font-weight="bold">b</text>
<rect x="1680.9" y="85.7" width="242.8" height="177.3" fill="#fff" stroke="#262626" stroke-width="1.1"/>
<rect x="1687.8" y="93.5" width="66.8" height="24.8" fill="#3277bc" stroke="#000" stroke-width="1"/>
<text x="1767" y="113.9" font-size="24.9">Fluorescence</text>
<rect x="1687.8" y="127.78" width="66.8" height="24.8" fill="#d94b0d" stroke="#000" stroke-width="1"/>
<text x="1767" y="148.18" font-size="24.9">ISC</text>
<rect x="1687.8" y="162.06" width="66.8" height="24.8" fill="#efb305" stroke="#000" stroke-width="1"/>
<text x="1767" y="182.46" font-size="24.9">SSA</text>
<rect x="1687.8" y="196.34" width="66.8" height="24.8" fill="#8b1fa6" stroke="#000" stroke-width="1"/>
<text x="1767" y="216.74" font-size="24.9">SPA</text>
<rect x="1687.8" y="230.62" width="66.8" height="24.8" fill="#80b416" stroke="#000" stroke-width="1"/>
<text x="1767" y="251.02" font-size="24.9">STA</text>
</g>
<g>
<clipPath id="clipc"><rect x="105.5" y="795.5" width="831.2" height="545.6"/></clipPath>
<g clip-path="url(#clipc)">
<path d="M125 1340.5C125.83 1340.47 128.52 1340.4 130 1340.3C131.48 1340.2 132.73 1340.22 133.9 1339.9C135.07 1339.58 136.1 1339.25 137 1338.4C137.9 1337.55 138.58 1336.55 139.3 1334.8C140.02 1333.05 140.72 1330.58 141.3 1327.9C141.88 1325.22 142.32 1322.3 142.8 1318.7C143.28 1315.1 143.75 1310.93 144.2 1306.3C144.65 1301.67 145.08 1296.55 145.5 1290.9C145.92 1285.25 146.27 1279.33 146.7 1272.4C147.13 1265.47 147.67 1257 148.1 1249.3C148.53 1241.6 148.9 1234.25 149.3 1226.2C149.7 1218.15 150.12 1209.37 150.5 1201C150.88 1192.63 151.2 1185.87 151.6 1176C152 1166.13 152.52 1151.87 152.9 1141.8C153.28 1131.73 153.55 1124.58 153.9 1115.6C154.25 1106.62 154.62 1096.88 155 1087.9C155.38 1078.92 155.73 1071.22 156.2 1061.7C156.67 1052.18 157.32 1040.57 157.8 1030.8C158.28 1021.03 158.7 1011.52 159.1 1003.1C159.5 994.68 159.9 986.67 160.2 980.3C160.5 973.93 160.63 970.03 160.9 964.9C161.17 959.77 161.47 954.63 161.8 949.5C162.13 944.37 162.47 939.23 162.9 934.1C163.33 928.97 163.83 923.83 164.4 918.7C164.97 913.57 165.6 907.93 166.3 903.3C167 898.67 167.92 894.12 168.6 890.9C169.28 887.68 169.77 885.53 170.4 884C171.03 882.47 171.75 881.7 172.4 881.7C173.05 881.7 173.65 882.72 174.3 884C174.95 885.28 175.45 886.45 176.3 889.4C177.15 892.35 178.38 896.82 179.4 901.7C180.42 906.58 181.43 913.3 182.4 918.7C183.37 924.1 184.3 928.97 185.2 934.1C186.1 939.23 186.93 944.37 187.8 949.5C188.67 954.63 189.58 959.77 190.4 964.9C191.22 970.03 191.8 974.45 192.7 980.3C193.6 986.15 194.68 993.12 195.8 1000C196.92 1006.88 198.08 1013.38 199.4 1021.6C200.72 1029.82 202.23 1040.32 203.7 1049.3C205.17 1058.28 206.68 1067.02 208.2 1075.5C209.72 1083.98 211.25 1092.23 212.8 1100.2C214.35 1108.17 215.92 1115.85 217.5 1123.3C219.08 1130.75 220.88 1138.78 222.3 1144.9C223.72 1151.02 224.2 1152.35 226 1160C227.8 1167.65 230.37 1181.17 233.1 1190.8C235.83 1200.43 239.07 1209.45 242.4 1217.8C245.73 1226.15 250.33 1235.28 253.1 1240.9C255.87 1246.52 256.95 1247.87 259 1251.5C261.05 1255.13 262.4 1258.13 265.4 1262.7C268.4 1267.27 272.5 1273.63 277 1278.9C281.5 1284.17 287.27 1290.07 292.4 1294.3C297.53 1298.53 302.03 1301.08 307.8 1304.3C313.57 1307.52 320.58 1311.15 327 1313.6C333.42 1316.05 339.87 1317.53 346.3 1319C352.73 1320.47 360.08 1321.72 365.6 1322.4C371.12 1323.08 373.67 1323.05 379.4 1323.1C385.13 1323.15 387.07 1322.92 400 1322.7C412.93 1322.48 434.65 1322.13 457 1321.8C479.35 1321.47 510.98 1320.97 534.1 1320.7C557.22 1320.43 574.72 1320.22 595.7 1320.2C616.68 1320.18 636.45 1320.33 660 1320.6C683.55 1320.87 711.32 1321.27 737 1321.8C762.68 1322.33 790.98 1323.3 814.1 1323.8C837.22 1324.3 855.27 1324.63 875.7 1324.8C896.13 1324.97 926.53 1324.8 936.7 1324.8L936.7 1340.5L125 1340.5Z" fill="#80b416" stroke="none"/>
<path d="M128 1340.5C128.83 1340.47 131.63 1340.4 133 1340.3C134.37 1340.2 135.15 1340.42 136.2 1339.9C137.25 1339.38 138.4 1338.55 139.3 1337.2C140.2 1335.85 140.83 1334.37 141.6 1331.8C142.37 1329.23 143.18 1325.78 143.9 1321.8C144.62 1317.82 145.25 1313.05 145.9 1307.9C146.55 1302.75 147.18 1296.82 147.8 1290.9C148.42 1284.98 149.02 1278.55 149.6 1272.4C150.18 1266.25 150.7 1260.42 151.3 1254C151.9 1247.58 152.55 1240.58 153.2 1233.9C153.85 1227.22 154.55 1220.22 155.2 1213.9C155.85 1207.58 156.57 1200.65 157.1 1196C157.63 1191.35 157.9 1189.13 158.4 1186C158.9 1182.87 159.43 1180.47 160.1 1177.2C160.77 1173.93 161.45 1169.43 162.4 1166.4C163.35 1163.37 164.65 1159 165.8 1159C166.95 1159 168.25 1163.62 169.3 1166.4C170.35 1169.18 171.23 1172.6 172.1 1175.7C172.97 1178.8 173.62 1181.45 174.5 1185C175.38 1188.55 176.33 1192.18 177.4 1197C178.47 1201.82 179.68 1208.27 180.9 1213.9C182.12 1219.53 183.28 1224.9 184.7 1230.8C186.12 1236.7 187.85 1243.38 189.4 1249.3C190.95 1255.22 192.47 1261.15 194 1266.3C195.53 1271.45 196.8 1275.45 198.6 1280.2C200.4 1284.95 202.75 1290.45 204.8 1294.8C206.85 1299.15 208.85 1302.97 210.9 1306.3C212.95 1309.63 215.03 1312.35 217.1 1314.8C219.17 1317.25 220.98 1319.07 223.3 1321C225.62 1322.93 228.43 1324.92 231 1326.4C233.57 1327.88 236.13 1329.05 238.7 1329.9C241.27 1330.75 243.83 1331.02 246.4 1331.5C248.97 1331.98 250.28 1332.25 254.1 1332.8C257.92 1333.35 263.57 1334.08 269.3 1334.8C275.03 1335.52 282.73 1336.47 288.5 1337.1C294.27 1337.73 299.65 1338.22 303.9 1338.6C308.15 1338.98 309.65 1339.17 314 1339.4C318.35 1339.63 324 1339.87 330 1340C336 1340.13 248.88 1340.17 350 1340.2C451.12 1340.23 838.92 1340.2 936.7 1340.2L936.7 1340.5L128 1340.5Z" fill="#efb305" stroke="none"/>
<path d="M132 1340.5C133.08 1340.42 136.13 1340.43 138.5 1340C140.87 1339.57 143.63 1338.68 146.2 1337.9C148.77 1337.12 151.33 1335.97 153.9 1335.3C156.47 1334.63 159.53 1334.15 161.6 1333.9C163.67 1333.65 163.73 1333.77 166.3 1333.8C168.87 1333.83 172.65 1333.85 177 1334.1C181.35 1334.35 187.25 1334.83 192.4 1335.3C197.55 1335.77 202.75 1336.47 207.9 1336.9C213.05 1337.33 218.17 1337.6 223.3 1337.9C228.43 1338.2 233.57 1338.47 238.7 1338.7C243.83 1338.93 243.88 1339.07 254.1 1339.3C264.32 1339.53 186.23 1339.93 300 1340.1C413.77 1340.27 830.58 1340.27 936.7 1340.3L936.7 1340.5L132 1340.5Z" fill="#d94b0d" stroke="none"/>
<path d="M134 1340.5C135 1340.45 137.97 1340.37 140 1340.2C142.03 1340.03 143.88 1339.95 146.2 1339.5C148.52 1339.05 151.33 1338.05 153.9 1337.5C156.47 1336.95 159.03 1336.47 161.6 1336.2C164.17 1335.93 165.45 1335.83 169.3 1335.9C173.15 1335.97 179.55 1336.28 184.7 1336.6C189.85 1336.92 193.77 1337.4 200.2 1337.8C206.63 1338.2 216.88 1338.7 223.3 1339C229.72 1339.3 229.25 1339.4 238.7 1339.6C248.15 1339.8 163.67 1340.07 280 1340.2C396.33 1340.33 827.25 1340.37 936.7 1340.4L936.7 1340.5L134 1340.5Z" fill="#3277bc" stroke="none"/>
<path d="M125 1340.5C125.83 1340.47 128.52 1340.4 130 1340.3C131.48 1340.2 132.73 1340.22 133.9 1339.9C135.07 1339.58 136.1 1339.25 137 1338.4C137.9 1337.55 138.58 1336.55 139.3 1334.8C140.02 1333.05 140.72 1330.58 141.3 1327.9C141.88 1325.22 142.32 1322.3 142.8 1318.7C143.28 1315.1 143.75 1310.93 144.2 1306.3C144.65 1301.67 145.08 1296.55 145.5 1290.9C145.92 1285.25 146.27 1279.33 146.7 1272.4C147.13 1265.47 147.67 1257 148.1 1249.3C148.53 1241.6 148.9 1234.25 149.3 1226.2C149.7 1218.15 150.12 1209.37 150.5 1201C150.88 1192.63 151.2 1185.87 151.6 1176C152 1166.13 152.52 1151.87 152.9 1141.8C153.28 1131.73 153.55 1124.58 153.9 1115.6C154.25 1106.62 154.62 1096.88 155 1087.9C155.38 1078.92 155.73 1071.22 156.2 1061.7C156.67 1052.18 157.32 1040.57 157.8 1030.8C158.28 1021.03 158.7 1011.52 159.1 1003.1C159.5 994.68 159.9 986.67 160.2 980.3C160.5 973.93 160.63 970.03 160.9 964.9C161.17 959.77 161.47 954.63 161.8 949.5C162.13 944.37 162.47 939.23 162.9 934.1C163.33 928.97 163.83 923.83 164.4 918.7C164.97 913.57 165.6 907.93 166.3 903.3C167 898.67 167.92 894.12 168.6 890.9C169.28 887.68 169.77 885.53 170.4 884C171.03 882.47 171.75 881.7 172.4 881.7C173.05 881.7 173.65 882.72 174.3 884C174.95 885.28 175.45 886.45 176.3 889.4C177.15 892.35 178.38 896.82 179.4 901.7C180.42 906.58 181.43 913.3 182.4 918.7C183.37 924.1 184.3 928.97 185.2 934.1C186.1 939.23 186.93 944.37 187.8 949.5C188.67 954.63 189.58 959.77 190.4 964.9C191.22 970.03 191.8 974.45 192.7 980.3C193.6 986.15 194.68 993.12 195.8 1000C196.92 1006.88 198.08 1013.38 199.4 1021.6C200.72 1029.82 202.23 1040.32 203.7 1049.3C205.17 1058.28 206.68 1067.02 208.2 1075.5C209.72 1083.98 211.25 1092.23 212.8 1100.2C214.35 1108.17 215.92 1115.85 217.5 1123.3C219.08 1130.75 220.88 1138.78 222.3 1144.9C223.72 1151.02 224.2 1152.35 226 1160C227.8 1167.65 230.37 1181.17 233.1 1190.8C235.83 1200.43 239.07 1209.45 242.4 1217.8C245.73 1226.15 250.33 1235.28 253.1 1240.9C255.87 1246.52 256.95 1247.87 259 1251.5C261.05 1255.13 262.4 1258.13 265.4 1262.7C268.4 1267.27 272.5 1273.63 277 1278.9C281.5 1284.17 287.27 1290.07 292.4 1294.3C297.53 1298.53 302.03 1301.08 307.8 1304.3C313.57 1307.52 320.58 1311.15 327 1313.6C333.42 1316.05 339.87 1317.53 346.3 1319C352.73 1320.47 360.08 1321.72 365.6 1322.4C371.12 1323.08 373.67 1323.05 379.4 1323.1C385.13 1323.15 387.07 1322.92 400 1322.7C412.93 1322.48 434.65 1322.13 457 1321.8C479.35 1321.47 510.98 1320.97 534.1 1320.7C557.22 1320.43 574.72 1320.22 595.7 1320.2C616.68 1320.18 636.45 1320.33 660 1320.6C683.55 1320.87 711.32 1321.27 737 1321.8C762.68 1322.33 790.98 1323.3 814.1 1323.8C837.22 1324.3 855.27 1324.63 875.7 1324.8C896.13 1324.97 926.53 1324.8 936.7 1324.8" fill="none" stroke="#000" stroke-width="1.15" stroke-linejoin="round"/>
<path d="M128 1340.5C128.83 1340.47 131.63 1340.4 133 1340.3C134.37 1340.2 135.15 1340.42 136.2 1339.9C137.25 1339.38 138.4 1338.55 139.3 1337.2C140.2 1335.85 140.83 1334.37 141.6 1331.8C142.37 1329.23 143.18 1325.78 143.9 1321.8C144.62 1317.82 145.25 1313.05 145.9 1307.9C146.55 1302.75 147.18 1296.82 147.8 1290.9C148.42 1284.98 149.02 1278.55 149.6 1272.4C150.18 1266.25 150.7 1260.42 151.3 1254C151.9 1247.58 152.55 1240.58 153.2 1233.9C153.85 1227.22 154.55 1220.22 155.2 1213.9C155.85 1207.58 156.57 1200.65 157.1 1196C157.63 1191.35 157.9 1189.13 158.4 1186C158.9 1182.87 159.43 1180.47 160.1 1177.2C160.77 1173.93 161.45 1169.43 162.4 1166.4C163.35 1163.37 164.65 1159 165.8 1159C166.95 1159 168.25 1163.62 169.3 1166.4C170.35 1169.18 171.23 1172.6 172.1 1175.7C172.97 1178.8 173.62 1181.45 174.5 1185C175.38 1188.55 176.33 1192.18 177.4 1197C178.47 1201.82 179.68 1208.27 180.9 1213.9C182.12 1219.53 183.28 1224.9 184.7 1230.8C186.12 1236.7 187.85 1243.38 189.4 1249.3C190.95 1255.22 192.47 1261.15 194 1266.3C195.53 1271.45 196.8 1275.45 198.6 1280.2C200.4 1284.95 202.75 1290.45 204.8 1294.8C206.85 1299.15 208.85 1302.97 210.9 1306.3C212.95 1309.63 215.03 1312.35 217.1 1314.8C219.17 1317.25 220.98 1319.07 223.3 1321C225.62 1322.93 228.43 1324.92 231 1326.4C233.57 1327.88 236.13 1329.05 238.7 1329.9C241.27 1330.75 243.83 1331.02 246.4 1331.5C248.97 1331.98 250.28 1332.25 254.1 1332.8C257.92 1333.35 263.57 1334.08 269.3 1334.8C275.03 1335.52 282.73 1336.47 288.5 1337.1C294.27 1337.73 299.65 1338.22 303.9 1338.6C308.15 1338.98 309.65 1339.17 314 1339.4C318.35 1339.63 324 1339.87 330 1340C336 1340.13 248.88 1340.17 350 1340.2C451.12 1340.23 838.92 1340.2 936.7 1340.2" fill="none" stroke="#000" stroke-width="1.15" stroke-linejoin="round"/>
<path d="M132 1340.5C133.08 1340.42 136.13 1340.43 138.5 1340C140.87 1339.57 143.63 1338.68 146.2 1337.9C148.77 1337.12 151.33 1335.97 153.9 1335.3C156.47 1334.63 159.53 1334.15 161.6 1333.9C163.67 1333.65 163.73 1333.77 166.3 1333.8C168.87 1333.83 172.65 1333.85 177 1334.1C181.35 1334.35 187.25 1334.83 192.4 1335.3C197.55 1335.77 202.75 1336.47 207.9 1336.9C213.05 1337.33 218.17 1337.6 223.3 1337.9C228.43 1338.2 233.57 1338.47 238.7 1338.7C243.83 1338.93 243.88 1339.07 254.1 1339.3C264.32 1339.53 186.23 1339.93 300 1340.1C413.77 1340.27 830.58 1340.27 936.7 1340.3" fill="none" stroke="#000" stroke-width="1.15" stroke-linejoin="round"/>
<path d="M134 1340.5C135 1340.45 137.97 1340.37 140 1340.2C142.03 1340.03 143.88 1339.95 146.2 1339.5C148.52 1339.05 151.33 1338.05 153.9 1337.5C156.47 1336.95 159.03 1336.47 161.6 1336.2C164.17 1335.93 165.45 1335.83 169.3 1335.9C173.15 1335.97 179.55 1336.28 184.7 1336.6C189.85 1336.92 193.77 1337.4 200.2 1337.8C206.63 1338.2 216.88 1338.7 223.3 1339C229.72 1339.3 229.25 1339.4 238.7 1339.6C248.15 1339.8 163.67 1340.07 280 1340.2C396.33 1340.33 827.25 1340.37 936.7 1340.4" fill="none" stroke="#000" stroke-width="1.15" stroke-linejoin="round"/>
<path d="M300 1339.9H937" stroke="#000" stroke-width="2.2"/>
</g>
<path d="M159.67 1340.5v-4.3M159.67 795.5v4.3M196.66 1340.5v-4.3M196.66 795.5v4.3M222.9 1340.5v-4.3M222.9 795.5v4.3M243.26 1340.5v-4.3M243.26 795.5v4.3M259.9 1340.5v-4.3M259.9 795.5v4.3M273.96 1340.5v-4.3M273.96 795.5v4.3M286.14 1340.5v-4.3M286.14 795.5v4.3M296.89 1340.5v-4.3M296.89 795.5v4.3M306.5 1340.5v-8.4M306.5 795.5v8.4M369.74 1340.5v-4.3M369.74 795.5v4.3M406.73 1340.5v-4.3M406.73 795.5v4.3M432.97 1340.5v-4.3M432.97 795.5v4.3M453.33 1340.5v-4.3M453.33 795.5v4.3M469.97 1340.5v-4.3M469.97 795.5v4.3M484.03 1340.5v-4.3M484.03 795.5v4.3M496.21 1340.5v-4.3M496.21 795.5v4.3M506.96 1340.5v-4.3M506.96 795.5v4.3M516.57 1340.5v-8.4M516.57 795.5v8.4M579.81 1340.5v-4.3M579.81 795.5v4.3M616.8 1340.5v-4.3M616.8 795.5v4.3M643.04 1340.5v-4.3M643.04 795.5v4.3M663.4 1340.5v-4.3M663.4 795.5v4.3M680.04 1340.5v-4.3M680.04 795.5v4.3M694.1 1340.5v-4.3M694.1 795.5v4.3M706.28 1340.5v-4.3M706.28 795.5v4.3M717.03 1340.5v-4.3M717.03 795.5v4.3M726.64 1340.5v-8.4M726.64 795.5v8.4M789.88 1340.5v-4.3M789.88 795.5v4.3M826.87 1340.5v-4.3M826.87 795.5v4.3M853.11 1340.5v-4.3M853.11 795.5v4.3M873.47 1340.5v-4.3M873.47 795.5v4.3M890.11 1340.5v-4.3M890.11 795.5v4.3M904.17 1340.5v-4.3M904.17 795.5v4.3M916.35 1340.5v-4.3M916.35 795.5v4.3M927.1 1340.5v-4.3M927.1 795.5v4.3M105.5 1204.25h8.4M936.7 1204.25h-8.4M105.5 1068h8.4M936.7 1068h-8.4M105.5 931.75h8.4M936.7 931.75h-8.4" stroke="#262626" stroke-width="1" fill="none"/>
<rect x="105.5" y="795.5" width="831.2" height="545" fill="none" stroke="#262626" stroke-width="1.1"/>
<text x="94.2" y="1348.8" font-size="29" text-anchor="end">0</text>
<text x="94.2" y="1212.55" font-size="29" text-anchor="end">0.5</text>
<text x="94.2" y="1076.3" font-size="29" text-anchor="end">1</text>
<text x="94.2" y="940.05" font-size="29" text-anchor="end">1.5</text>
<text x="94.2" y="803.8" font-size="29" text-anchor="end">2</text>
<text x="284.76" y="1379.3" font-size="29" text-anchor="start">10<tspan font-size="20.2" dy="-12.9">0</tspan></text>
<text x="494.83" y="1379.3" font-size="29" text-anchor="start">10<tspan font-size="20.2" dy="-12.9">1</tspan></text>
<text x="704.9" y="1379.3" font-size="29" text-anchor="start">10<tspan font-size="20.2" dy="-12.9">2</tspan></text>
<text x="521.1" y="1421.6" font-size="29" text-anchor="middle">Time (ns)</text>
<text transform="translate(28 1348.5) rotate(-90)" font-size="29">Singlet decay pathway (cm<tspan font-size="21.2" dy="-12.2">–3</tspan><tspan dy="12.2"> s</tspan><tspan font-size="21.2" dy="-12.2">–1</tspan><tspan dy="12.2">)</tspan></text>
<text x="248.8" y="776" font-size="29" text-anchor="start" word-spacing="0.95">Singlet decay pathways for 10,000 A cm<tspan font-size="21.2" dy="-11.8">–2</tspan></text>
<text x="108.1" y="781.6" font-size="29" text-anchor="start">×10<tspan font-size="20.2" dy="-12.6">19</tspan></text>
<text x="-1.5" y="759" font-size="40" font-weight="bold">c</text>
<rect x="675.4" y="813.8" width="242.8" height="177.3" fill="#fff" stroke="#262626" stroke-width="1.1"/>
<rect x="682.3" y="821.6" width="66.8" height="24.8" fill="#3277bc" stroke="#000" stroke-width="1"/>
<text x="761.7" y="842" font-size="24.9">Fluorescence</text>
<rect x="682.3" y="855.88" width="66.8" height="24.8" fill="#d94b0d" stroke="#000" stroke-width="1"/>
<text x="761.7" y="876.28" font-size="24.9">ISC</text>
<rect x="682.3" y="890.16" width="66.8" height="24.8" fill="#efb305" stroke="#000" stroke-width="1"/>
<text x="761.7" y="910.56" font-size="24.9">SSA</text>
<rect x="682.3" y="924.44" width="66.8" height="24.8" fill="#8b1fa6" stroke="#000" stroke-width="1"/>
<text x="761.7" y="944.84" font-size="24.9">SPA</text>
<rect x="682.3" y="958.72" width="66.8" height="24.8" fill="#80b416" stroke="#000" stroke-width="1"/>
<text x="761.7" y="979.12" font-size="24.9">STA</text>
</g>
<g>
<clipPath id="clipd"><rect x="1110.6" y="795.5" width="831.6" height="545.6"/></clipPath>
<g clip-path="url(#clipd)">
<path d="M1123 1340.5C1123.78 1340.48 1126.4 1340.5 1127.7 1340.4C1129 1340.3 1129.9 1340.23 1130.8 1339.9C1131.7 1339.57 1132.4 1339.37 1133.1 1338.4C1133.8 1337.43 1134.45 1336.1 1135 1334.1C1135.55 1332.1 1136 1329.48 1136.4 1326.4C1136.8 1323.32 1137.05 1319.45 1137.4 1315.6C1137.75 1311.75 1138.17 1307.92 1138.5 1303.3C1138.83 1298.68 1139.07 1293.55 1139.4 1287.9C1139.73 1282.25 1140.13 1276.08 1140.5 1269.4C1140.87 1262.72 1141.23 1255.52 1141.6 1247.8C1141.97 1240.08 1142.37 1231.07 1142.7 1223.1C1143.03 1215.13 1143.32 1207.18 1143.6 1200C1143.88 1192.82 1144.17 1188.42 1144.4 1180C1144.63 1171.58 1144.77 1159.72 1145 1149.5C1145.23 1139.28 1145.52 1128.97 1145.8 1118.7C1146.08 1108.43 1146.37 1099.47 1146.7 1087.9C1147.03 1076.33 1147.42 1062.15 1147.8 1049.3C1148.18 1036.45 1148.67 1021.52 1149 1010.8C1149.33 1000.08 1149.55 992.65 1149.8 985C1150.05 977.35 1150.27 972.1 1150.5 964.9C1150.73 957.7 1150.97 949.5 1151.2 941.8C1151.43 934.1 1151.67 926.15 1151.9 918.7C1152.13 911.25 1152.33 904.3 1152.6 897.1C1152.87 889.9 1153.2 882.18 1153.5 875.5C1153.8 868.82 1154.02 863.15 1154.4 857C1154.78 850.85 1155.32 844.5 1155.8 838.6C1156.28 832.7 1156.72 826.75 1157.3 821.6C1157.88 816.45 1158.73 811.05 1159.3 807.7C1159.87 804.35 1160.23 802.9 1160.7 801.5C1161.17 800.1 1161.63 799.3 1162.1 799.3C1162.57 799.3 1163.02 800.1 1163.5 801.5C1163.98 802.9 1164.37 804.35 1165 807.7C1165.63 811.05 1166.58 816.45 1167.3 821.6C1168.02 826.75 1168.58 832.7 1169.3 838.6C1170.02 844.5 1170.87 850.85 1171.6 857C1172.33 863.15 1172.97 868.82 1173.7 875.5C1174.43 882.18 1175.23 889.9 1176 897.1C1176.77 904.3 1177.53 911.25 1178.3 918.7C1179.07 926.15 1179.78 934.1 1180.6 941.8C1181.42 949.5 1182.43 958.2 1183.2 964.9C1183.97 971.6 1184.43 974.87 1185.2 982C1185.97 989.13 1186.72 998.27 1187.8 1007.7C1188.88 1017.13 1190.42 1028.83 1191.7 1038.6C1192.98 1048.37 1194.23 1056.95 1195.5 1066.3C1196.77 1075.65 1197.88 1084.83 1199.3 1094.7C1200.72 1104.57 1202.45 1116.52 1204 1125.5C1205.55 1134.48 1207.18 1141.18 1208.6 1148.6C1210.02 1156.02 1210.98 1162.58 1212.5 1170C1214.02 1177.42 1215.93 1185.92 1217.7 1193.1C1219.47 1200.28 1221.3 1206.8 1223.1 1213.1C1224.9 1219.4 1226.7 1225.37 1228.5 1230.9C1230.3 1236.43 1231.97 1241.37 1233.9 1246.3C1235.83 1251.23 1238.18 1256.47 1240.1 1260.5C1242.02 1264.53 1243.48 1267.28 1245.4 1270.5C1247.32 1273.72 1249.93 1277.32 1251.6 1279.8C1253.27 1282.28 1252.97 1282.15 1255.4 1285.4C1257.83 1288.65 1262.47 1295.18 1266.2 1299.3C1269.93 1303.42 1273.57 1306.77 1277.8 1310.1C1282.03 1313.43 1286.73 1316.6 1291.6 1319.3C1296.47 1322 1301.87 1324.5 1307 1326.3C1312.13 1328.1 1315.97 1329.08 1322.4 1330.1C1328.83 1331.12 1336 1331.73 1345.6 1332.4C1355.2 1333.07 1370.93 1333.7 1380 1334.1C1389.07 1334.5 1384.67 1334.42 1400 1334.8C1415.33 1335.18 1449.67 1336 1472 1336.4C1494.33 1336.8 1499.33 1337.02 1534 1337.2C1568.67 1337.38 1611.97 1337.43 1680 1337.5C1748.03 1337.57 1898.5 1337.58 1942.2 1337.6L1942.2 1340.5L1123 1340.5Z" fill="#80b416" stroke="none"/>
<path d="M1125 1340.5C1125.83 1340.47 1128.65 1340.47 1130 1340.3C1131.35 1340.13 1132.25 1340.15 1133.1 1339.5C1133.95 1338.85 1134.45 1338.07 1135.1 1336.4C1135.75 1334.73 1136.43 1332.45 1137 1329.5C1137.57 1326.55 1137.98 1323.07 1138.5 1318.7C1139.02 1314.33 1139.58 1308.95 1140.1 1303.3C1140.62 1297.65 1141.1 1291.48 1141.6 1284.8C1142.1 1278.12 1142.58 1270.4 1143.1 1263.2C1143.62 1256 1144.18 1249.05 1144.7 1241.6C1145.22 1234.15 1145.73 1225.77 1146.2 1218.5C1146.67 1211.23 1147.12 1203.75 1147.5 1198C1147.88 1192.25 1148.17 1188.5 1148.5 1184C1148.83 1179.5 1149.15 1175.22 1149.5 1171C1149.85 1166.78 1150.17 1162.8 1150.6 1158.7C1151.03 1154.6 1151.55 1150.25 1152.1 1146.4C1152.65 1142.55 1153.17 1138.42 1153.9 1135.6C1154.63 1132.78 1155.6 1129.5 1156.5 1129.5C1157.4 1129.5 1158.5 1132.78 1159.3 1135.6C1160.1 1138.42 1160.65 1142.55 1161.3 1146.4C1161.95 1150.25 1162.5 1154.33 1163.2 1158.7C1163.9 1163.07 1164.78 1168.22 1165.5 1172.6C1166.22 1176.98 1166.8 1180.85 1167.5 1185C1168.2 1189.15 1168.75 1192.17 1169.7 1197.5C1170.65 1202.83 1171.98 1210.42 1173.2 1217C1174.42 1223.58 1175.72 1230.58 1177 1237C1178.28 1243.42 1179.62 1249.85 1180.9 1255.5C1182.18 1261.15 1183.28 1265.77 1184.7 1270.9C1186.12 1276.03 1187.85 1281.68 1189.4 1286.3C1190.95 1290.92 1192.47 1295 1194 1298.6C1195.53 1302.2 1196.8 1304.82 1198.6 1307.9C1200.4 1310.98 1202.75 1314.4 1204.8 1317.1C1206.85 1319.8 1208.85 1322.17 1210.9 1324.1C1212.95 1326.03 1215.03 1327.45 1217.1 1328.7C1219.17 1329.95 1220.98 1330.75 1223.3 1331.6C1225.62 1332.45 1228.43 1333.08 1231 1333.8C1233.57 1334.52 1236.13 1335.27 1238.7 1335.9C1241.27 1336.53 1243.83 1337.15 1246.4 1337.6C1248.97 1338.05 1251.5 1338.3 1254.1 1338.6C1256.7 1338.9 1259.35 1339.17 1262 1339.4C1264.65 1339.63 1266.18 1339.87 1270 1340C1273.82 1340.13 1172.87 1340.15 1284.9 1340.2C1396.93 1340.25 1832.65 1340.28 1942.2 1340.3L1942.2 1340.5L1125 1340.5Z" fill="#efb305" stroke="none"/>
<path d="M1123 1340.5C1123.78 1340.48 1126.4 1340.5 1127.7 1340.4C1129 1340.3 1129.9 1340.23 1130.8 1339.9C1131.7 1339.57 1132.4 1339.37 1133.1 1338.4C1133.8 1337.43 1134.45 1336.1 1135 1334.1C1135.55 1332.1 1136 1329.48 1136.4 1326.4C1136.8 1323.32 1137.05 1319.45 1137.4 1315.6C1137.75 1311.75 1138.17 1307.92 1138.5 1303.3C1138.83 1298.68 1139.07 1293.55 1139.4 1287.9C1139.73 1282.25 1140.13 1276.08 1140.5 1269.4C1140.87 1262.72 1141.23 1255.52 1141.6 1247.8C1141.97 1240.08 1142.37 1231.07 1142.7 1223.1C1143.03 1215.13 1143.32 1207.18 1143.6 1200C1143.88 1192.82 1144.17 1188.42 1144.4 1180C1144.63 1171.58 1144.77 1159.72 1145 1149.5C1145.23 1139.28 1145.52 1128.97 1145.8 1118.7C1146.08 1108.43 1146.37 1099.47 1146.7 1087.9C1147.03 1076.33 1147.42 1062.15 1147.8 1049.3C1148.18 1036.45 1148.67 1021.52 1149 1010.8C1149.33 1000.08 1149.55 992.65 1149.8 985C1150.05 977.35 1150.27 972.1 1150.5 964.9C1150.73 957.7 1150.97 949.5 1151.2 941.8C1151.43 934.1 1151.67 926.15 1151.9 918.7C1152.13 911.25 1152.33 904.3 1152.6 897.1C1152.87 889.9 1153.2 882.18 1153.5 875.5C1153.8 868.82 1154.02 863.15 1154.4 857C1154.78 850.85 1155.32 844.5 1155.8 838.6C1156.28 832.7 1156.72 826.75 1157.3 821.6C1157.88 816.45 1158.73 811.05 1159.3 807.7C1159.87 804.35 1160.23 802.9 1160.7 801.5C1161.17 800.1 1161.63 799.3 1162.1 799.3C1162.57 799.3 1163.02 800.1 1163.5 801.5C1163.98 802.9 1164.37 804.35 1165 807.7C1165.63 811.05 1166.58 816.45 1167.3 821.6C1168.02 826.75 1168.58 832.7 1169.3 838.6C1170.02 844.5 1170.87 850.85 1171.6 857C1172.33 863.15 1172.97 868.82 1173.7 875.5C1174.43 882.18 1175.23 889.9 1176 897.1C1176.77 904.3 1177.53 911.25 1178.3 918.7C1179.07 926.15 1179.78 934.1 1180.6 941.8C1181.42 949.5 1182.43 958.2 1183.2 964.9C1183.97 971.6 1184.43 974.87 1185.2 982C1185.97 989.13 1186.72 998.27 1187.8 1007.7C1188.88 1017.13 1190.42 1028.83 1191.7 1038.6C1192.98 1048.37 1194.23 1056.95 1195.5 1066.3C1196.77 1075.65 1197.88 1084.83 1199.3 1094.7C1200.72 1104.57 1202.45 1116.52 1204 1125.5C1205.55 1134.48 1207.18 1141.18 1208.6 1148.6C1210.02 1156.02 1210.98 1162.58 1212.5 1170C1214.02 1177.42 1215.93 1185.92 1217.7 1193.1C1219.47 1200.28 1221.3 1206.8 1223.1 1213.1C1224.9 1219.4 1226.7 1225.37 1228.5 1230.9C1230.3 1236.43 1231.97 1241.37 1233.9 1246.3C1235.83 1251.23 1238.18 1256.47 1240.1 1260.5C1242.02 1264.53 1243.48 1267.28 1245.4 1270.5C1247.32 1273.72 1249.93 1277.32 1251.6 1279.8C1253.27 1282.28 1252.97 1282.15 1255.4 1285.4C1257.83 1288.65 1262.47 1295.18 1266.2 1299.3C1269.93 1303.42 1273.57 1306.77 1277.8 1310.1C1282.03 1313.43 1286.73 1316.6 1291.6 1319.3C1296.47 1322 1301.87 1324.5 1307 1326.3C1312.13 1328.1 1315.97 1329.08 1322.4 1330.1C1328.83 1331.12 1336 1331.73 1345.6 1332.4C1355.2 1333.07 1370.93 1333.7 1380 1334.1C1389.07 1334.5 1384.67 1334.42 1400 1334.8C1415.33 1335.18 1449.67 1336 1472 1336.4C1494.33 1336.8 1499.33 1337.02 1534 1337.2C1568.67 1337.38 1611.97 1337.43 1680 1337.5C1748.03 1337.57 1898.5 1337.58 1942.2 1337.6" fill="none" stroke="#000" stroke-width="1.15" stroke-linejoin="round"/>
<path d="M1125 1340.5C1125.83 1340.47 1128.65 1340.47 1130 1340.3C1131.35 1340.13 1132.25 1340.15 1133.1 1339.5C1133.95 1338.85 1134.45 1338.07 1135.1 1336.4C1135.75 1334.73 1136.43 1332.45 1137 1329.5C1137.57 1326.55 1137.98 1323.07 1138.5 1318.7C1139.02 1314.33 1139.58 1308.95 1140.1 1303.3C1140.62 1297.65 1141.1 1291.48 1141.6 1284.8C1142.1 1278.12 1142.58 1270.4 1143.1 1263.2C1143.62 1256 1144.18 1249.05 1144.7 1241.6C1145.22 1234.15 1145.73 1225.77 1146.2 1218.5C1146.67 1211.23 1147.12 1203.75 1147.5 1198C1147.88 1192.25 1148.17 1188.5 1148.5 1184C1148.83 1179.5 1149.15 1175.22 1149.5 1171C1149.85 1166.78 1150.17 1162.8 1150.6 1158.7C1151.03 1154.6 1151.55 1150.25 1152.1 1146.4C1152.65 1142.55 1153.17 1138.42 1153.9 1135.6C1154.63 1132.78 1155.6 1129.5 1156.5 1129.5C1157.4 1129.5 1158.5 1132.78 1159.3 1135.6C1160.1 1138.42 1160.65 1142.55 1161.3 1146.4C1161.95 1150.25 1162.5 1154.33 1163.2 1158.7C1163.9 1163.07 1164.78 1168.22 1165.5 1172.6C1166.22 1176.98 1166.8 1180.85 1167.5 1185C1168.2 1189.15 1168.75 1192.17 1169.7 1197.5C1170.65 1202.83 1171.98 1210.42 1173.2 1217C1174.42 1223.58 1175.72 1230.58 1177 1237C1178.28 1243.42 1179.62 1249.85 1180.9 1255.5C1182.18 1261.15 1183.28 1265.77 1184.7 1270.9C1186.12 1276.03 1187.85 1281.68 1189.4 1286.3C1190.95 1290.92 1192.47 1295 1194 1298.6C1195.53 1302.2 1196.8 1304.82 1198.6 1307.9C1200.4 1310.98 1202.75 1314.4 1204.8 1317.1C1206.85 1319.8 1208.85 1322.17 1210.9 1324.1C1212.95 1326.03 1215.03 1327.45 1217.1 1328.7C1219.17 1329.95 1220.98 1330.75 1223.3 1331.6C1225.62 1332.45 1228.43 1333.08 1231 1333.8C1233.57 1334.52 1236.13 1335.27 1238.7 1335.9C1241.27 1336.53 1243.83 1337.15 1246.4 1337.6C1248.97 1338.05 1251.5 1338.3 1254.1 1338.6C1256.7 1338.9 1259.35 1339.17 1262 1339.4C1264.65 1339.63 1266.18 1339.87 1270 1340C1273.82 1340.13 1172.87 1340.15 1284.9 1340.2C1396.93 1340.25 1832.65 1340.28 1942.2 1340.3" fill="none" stroke="#000" stroke-width="1.15" stroke-linejoin="round"/>
<path d="M1266 1340.2H1943" stroke="#000" stroke-width="1.8"/>
</g>
<path d="M1148.31 1340.5v-4.3M1148.31 795.5v4.3M1178.06 1340.5v-4.3M1178.06 795.5v4.3M1199.17 1340.5v-4.3M1199.17 795.5v4.3M1215.54 1340.5v-4.3M1215.54 795.5v4.3M1228.92 1340.5v-4.3M1228.92 795.5v4.3M1240.23 1340.5v-4.3M1240.23 795.5v4.3M1250.03 1340.5v-4.3M1250.03 795.5v4.3M1258.67 1340.5v-4.3M1258.67 795.5v4.3M1266.4 1340.5v-8.4M1266.4 795.5v8.4M1317.26 1340.5v-4.3M1317.26 795.5v4.3M1347.01 1340.5v-4.3M1347.01 795.5v4.3M1368.12 1340.5v-4.3M1368.12 795.5v4.3M1384.49 1340.5v-4.3M1384.49 795.5v4.3M1397.87 1340.5v-4.3M1397.87 795.5v4.3M1409.18 1340.5v-4.3M1409.18 795.5v4.3M1418.98 1340.5v-4.3M1418.98 795.5v4.3M1427.62 1340.5v-4.3M1427.62 795.5v4.3M1435.35 1340.5v-8.4M1435.35 795.5v8.4M1486.21 1340.5v-4.3M1486.21 795.5v4.3M1515.96 1340.5v-4.3M1515.96 795.5v4.3M1537.07 1340.5v-4.3M1537.07 795.5v4.3M1553.44 1340.5v-4.3M1553.44 795.5v4.3M1566.82 1340.5v-4.3M1566.82 795.5v4.3M1578.13 1340.5v-4.3M1578.13 795.5v4.3M1587.93 1340.5v-4.3M1587.93 795.5v4.3M1596.57 1340.5v-4.3M1596.57 795.5v4.3M1604.3 1340.5v-8.4M1604.3 795.5v8.4M1655.16 1340.5v-4.3M1655.16 795.5v4.3M1684.91 1340.5v-4.3M1684.91 795.5v4.3M1706.02 1340.5v-4.3M1706.02 795.5v4.3M1722.39 1340.5v-4.3M1722.39 795.5v4.3M1735.77 1340.5v-4.3M1735.77 795.5v4.3M1747.08 1340.5v-4.3M1747.08 795.5v4.3M1756.88 1340.5v-4.3M1756.88 795.5v4.3M1765.52 1340.5v-4.3M1765.52 795.5v4.3M1773.25 1340.5v-8.4M1773.25 795.5v8.4M1824.11 1340.5v-4.3M1824.11 795.5v4.3M1853.86 1340.5v-4.3M1853.86 795.5v4.3M1874.97 1340.5v-4.3M1874.97 795.5v4.3M1891.34 1340.5v-4.3M1891.34 795.5v4.3M1904.72 1340.5v-4.3M1904.72 795.5v4.3M1916.03 1340.5v-4.3M1916.03 795.5v4.3M1925.83 1340.5v-4.3M1925.83 795.5v4.3M1934.47 1340.5v-4.3M1934.47 795.5v4.3M1110.6 1272.38h8.4M1942.2 1272.38h-8.4M1110.6 1204.25h8.4M1942.2 1204.25h-8.4M1110.6 1136.12h8.4M1942.2 1136.12h-8.4M1110.6 1068h8.4M1942.2 1068h-8.4M1110.6 999.88h8.4M1942.2 999.88h-8.4M1110.6 931.75h8.4M1942.2 931.75h-8.4M1110.6 863.62h8.4M1942.2 863.62h-8.4" stroke="#262626" stroke-width="1" fill="none"/>
<rect x="1110.6" y="795.5" width="831.6" height="545" fill="none" stroke="#262626" stroke-width="1.1"/>
<text x="1097.9" y="1352.4" font-size="29" text-anchor="end">0</text>
<text x="1097.9" y="1284.28" font-size="29" text-anchor="end">2</text>
<text x="1097.9" y="1216.15" font-size="29" text-anchor="end">4</text>
<text x="1097.9" y="1148.03" font-size="29" text-anchor="end">6</text>
<text x="1097.9" y="1079.9" font-size="29" text-anchor="end">8</text>
<text x="1097.9" y="1011.77" font-size="29" text-anchor="end">10</text>
<text x="1097.9" y="943.65" font-size="29" text-anchor="end">12</text>
<text x="1097.9" y="875.52" font-size="29" text-anchor="end">14</text>
<text x="1097.9" y="807.4" font-size="29" text-anchor="end">16</text>
<text x="1241.29" y="1379.3" font-size="29" text-anchor="start">10<tspan font-size="20.2" dy="-12.9">-1</tspan></text>
<text x="1413.61" y="1379.3" font-size="29" text-anchor="start">10<tspan font-size="20.2" dy="-12.9">0</tspan></text>
<text x="1582.56" y="1379.3" font-size="29" text-anchor="start">10<tspan font-size="20.2" dy="-12.9">1</tspan></text>
<text x="1751.51" y="1379.3" font-size="29" text-anchor="start">10<tspan font-size="20.2" dy="-12.9">2</tspan></text>
<text x="1526.4" y="1421.6" font-size="29" text-anchor="middle">Time (ns)</text>
<text transform="translate(1035.3 1279) rotate(-90)" font-size="29">Singlet decay pathway (cm<tspan font-size="21.2" dy="-12.2">–3</tspan><tspan dy="12.2"> s</tspan><tspan font-size="21.2" dy="-12.2">–1</tspan><tspan dy="12.2">)</tspan></text>
<text x="1246.3" y="776" font-size="29" text-anchor="start" word-spacing="0.95">Singlet decay pathways for 100,000 A cm<tspan font-size="21.2" dy="-11.8">–2</tspan></text>
<text x="1113.2" y="781.6" font-size="29" text-anchor="start">×10<tspan font-size="20.2" dy="-12.6">19</tspan></text>
<text x="1001.5" y="759" font-size="40" font-weight="bold">d</text>
<rect x="1680.9" y="813.8" width="242.8" height="177.3" fill="#fff" stroke="#262626" stroke-width="1.1"/>
<rect x="1687.8" y="821.6" width="66.8" height="24.8" fill="#3277bc" stroke="#000" stroke-width="1"/>
<text x="1767" y="842" font-size="24.9">Fluorescence</text>
<rect x="1687.8" y="855.88" width="66.8" height="24.8" fill="#d94b0d" stroke="#000" stroke-width="1"/>
<text x="1767" y="876.28" font-size="24.9">ISC</text>
<rect x="1687.8" y="890.16" width="66.8" height="24.8" fill="#efb305" stroke="#000" stroke-width="1"/>
<text x="1767" y="910.56" font-size="24.9">SSA</text>
<rect x="1687.8" y="924.44" width="66.8" height="24.8" fill="#8b1fa6" stroke="#000" stroke-width="1"/>
<text x="1767" y="944.84" font-size="24.9">SPA</text>
<rect x="1687.8" y="958.72" width="66.8" height="24.8" fill="#80b416" stroke="#000" stroke-width="1"/>
<text x="1767" y="979.12" font-size="24.9">STA</text>
</g>
</svg></body></html>
